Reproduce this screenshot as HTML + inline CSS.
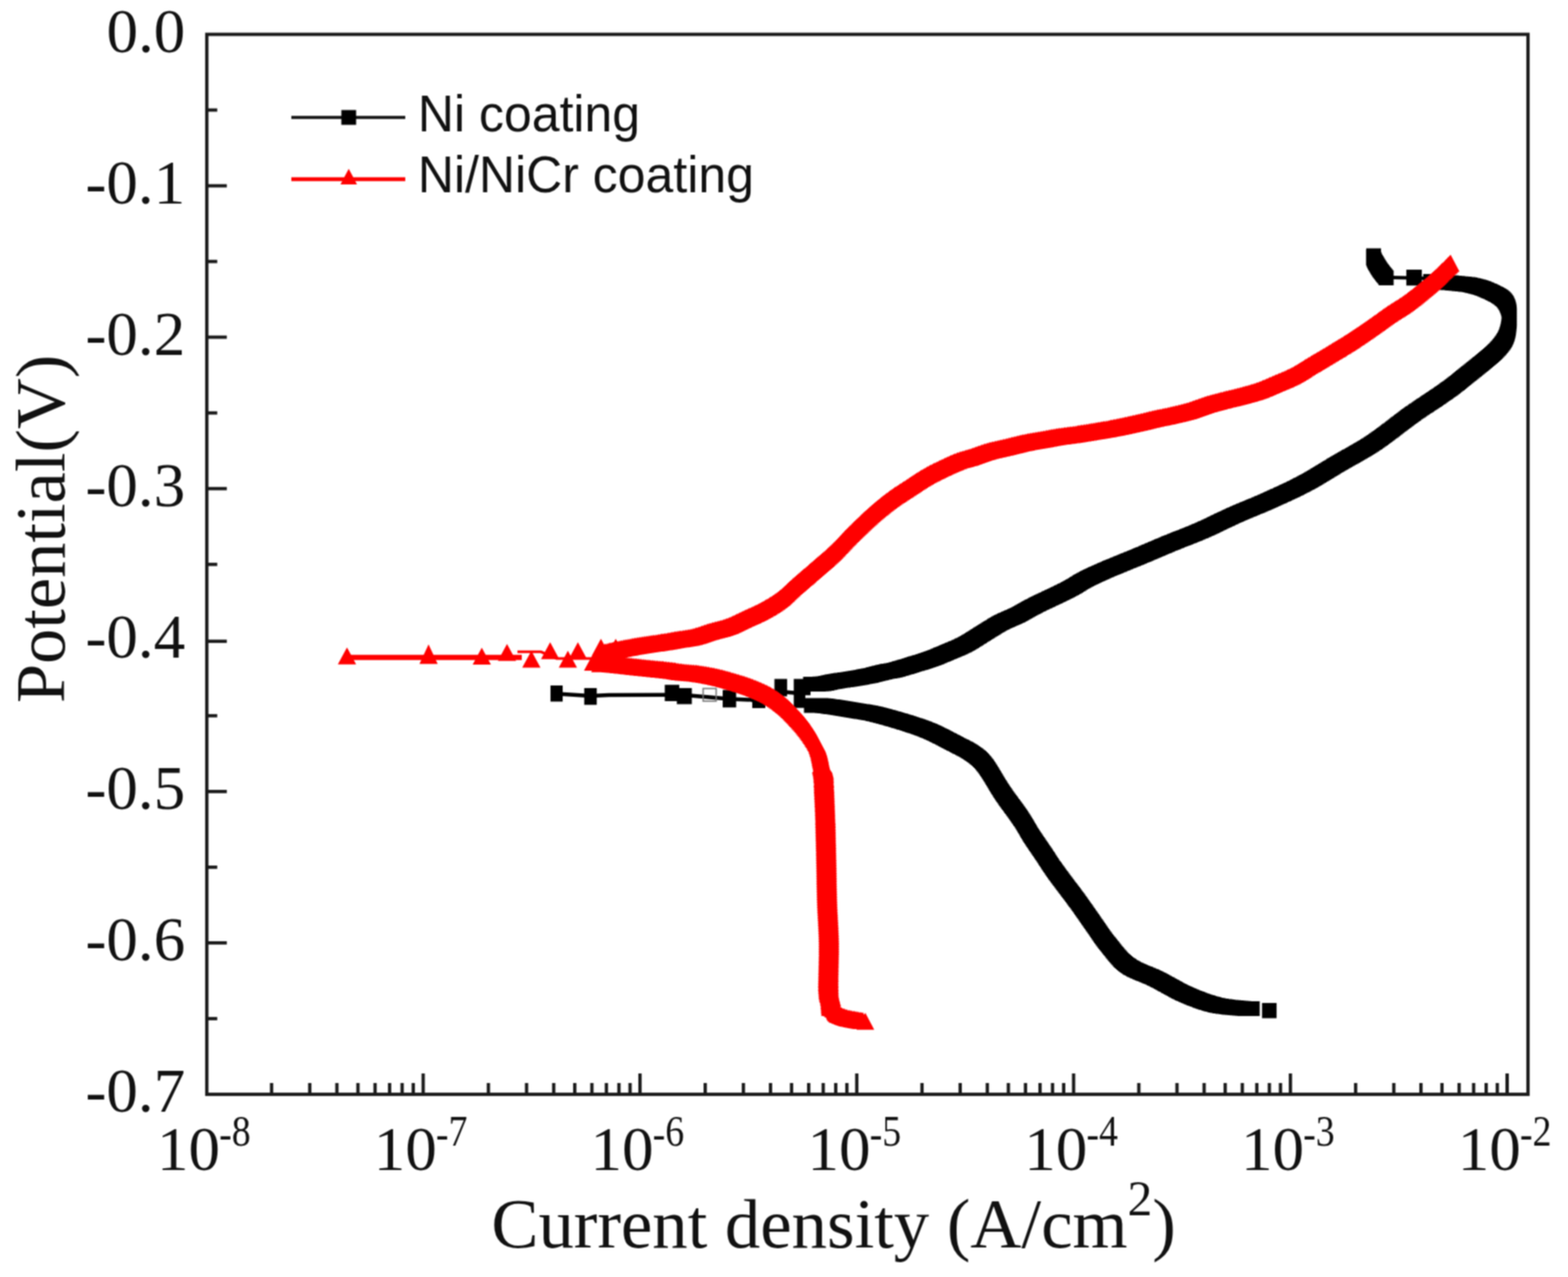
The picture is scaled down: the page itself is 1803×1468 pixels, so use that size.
<!DOCTYPE html><html><head><meta charset="utf-8"><style>html,body{margin:0;padding:0;background:#fff;}svg{display:block;}.ser{font-family:"Liberation Serif","Times New Roman",serif;}.san{font-family:"Liberation Sans",Arial,sans-serif;}</style></head><body>
<svg width="1803" height="1468" viewBox="0 0 1803 1468">
<rect width="1803" height="1468" fill="#fff"/>
<defs><filter id="bl" x="0" y="0" width="1803" height="1468" filterUnits="userSpaceOnUse" color-interpolation-filters="sRGB"><feConvolveMatrix order="3" kernelMatrix="1 2 1 2 4 2 1 2 1" divisor="16" edgeMode="duplicate"/></filter></defs>
<g filter="url(#bl)">
<polyline points="640.0,797.5 679.0,800.0 700.0,799.0 772.0,798.8 787.0,799.0 839.0,803.5 864.0,804.5 872.0,808.0 897.0,795.0 919.0,797.0 932.0,797.0" fill="none" stroke="#000" stroke-width="4.5"/>
<line x1="1600" y1="319" x2="1640" y2="320" stroke="#000" stroke-width="4"/>
<rect x="808.5" y="791.5" width="15" height="14.5" fill="none" stroke="#777" stroke-width="1.6"/>
<path d="M1431.5 1151.0h17.0v17.0h-17.0zM1430.0 1151.0h17.0v17.0h-17.0zM1428.6 1151.0h17.0v17.0h-17.0zM1427.2 1151.0h17.0v17.0h-17.0zM1425.8 1151.0h17.0v17.0h-17.0zM1424.1 1150.9h17.0v17.0h-17.0zM1422.9 1150.9h17.0v17.0h-17.0zM1421.5 1150.8h17.0v17.0h-17.0zM1420.1 1150.7h17.0v17.0h-17.0zM1418.6 1150.6h17.0v17.0h-17.0zM1417.1 1150.4h17.0v17.0h-17.0zM1415.5 1150.3h17.0v17.0h-17.0zM1414.2 1150.2h17.0v17.0h-17.0zM1412.9 1150.1h17.0v17.0h-17.0zM1411.5 1149.9h17.0v17.0h-17.0zM1410.1 1149.8h17.0v17.0h-17.0zM1408.6 1149.7h17.0v17.0h-17.0zM1407.1 1149.5h17.0v17.0h-17.0zM1405.6 1149.4h17.0v17.0h-17.0zM1404.0 1149.2h17.0v17.0h-17.0zM1402.4 1149.0h17.0v17.0h-17.0zM1400.8 1148.8h17.0v17.0h-17.0zM1399.2 1148.6h17.0v17.0h-17.0zM1397.6 1148.4h17.0v17.0h-17.0zM1395.9 1148.1h17.0v17.0h-17.0zM1394.3 1147.9h17.0v17.0h-17.0zM1392.6 1147.6h17.0v17.0h-17.0zM1391.0 1147.2h17.0v17.0h-17.0zM1389.4 1146.9h17.0v17.0h-17.0zM1387.8 1146.5h17.0v17.0h-17.0zM1386.4 1146.1h17.0v17.0h-17.0zM1385.1 1145.8h17.0v17.0h-17.0zM1383.7 1145.4h17.0v17.0h-17.0zM1382.3 1145.0h17.0v17.0h-17.0zM1380.9 1144.6h17.0v17.0h-17.0zM1379.5 1144.1h17.0v17.0h-17.0zM1378.0 1143.7h17.0v17.0h-17.0zM1376.6 1143.2h17.0v17.0h-17.0zM1375.2 1142.7h17.0v17.0h-17.0zM1373.8 1142.2h17.0v17.0h-17.0zM1372.3 1141.7h17.0v17.0h-17.0zM1370.9 1141.2h17.0v17.0h-17.0zM1369.4 1140.6h17.0v17.0h-17.0zM1368.0 1140.1h17.0v17.0h-17.0zM1366.5 1139.5h17.0v17.0h-17.0zM1365.1 1138.9h17.0v17.0h-17.0zM1363.6 1138.4h17.0v17.0h-17.0zM1362.2 1137.8h17.0v17.0h-17.0zM1360.7 1137.2h17.0v17.0h-17.0zM1359.3 1136.6h17.0v17.0h-17.0zM1357.8 1136.0h17.0v17.0h-17.0zM1356.4 1135.3h17.0v17.0h-17.0zM1355.0 1134.7h17.0v17.0h-17.0zM1353.6 1134.1h17.0v17.0h-17.0zM1352.3 1133.5h17.0v17.0h-17.0zM1351.0 1132.9h17.0v17.0h-17.0zM1349.6 1132.2h17.0v17.0h-17.0zM1348.3 1131.5h17.0v17.0h-17.0zM1347.0 1130.9h17.0v17.0h-17.0zM1345.6 1130.2h17.0v17.0h-17.0zM1344.3 1129.5h17.0v17.0h-17.0zM1343.0 1128.8h17.0v17.0h-17.0zM1341.7 1128.1h17.0v17.0h-17.0zM1340.3 1127.3h17.0v17.0h-17.0zM1339.0 1126.6h17.0v17.0h-17.0zM1337.7 1125.9h17.0v17.0h-17.0zM1336.4 1125.1h17.0v17.0h-17.0zM1335.0 1124.4h17.0v17.0h-17.0zM1333.7 1123.6h17.0v17.0h-17.0zM1332.4 1122.9h17.0v17.0h-17.0zM1331.0 1122.2h17.0v17.0h-17.0zM1329.7 1121.4h17.0v17.0h-17.0zM1328.4 1120.7h17.0v17.0h-17.0zM1327.1 1120.0h17.0v17.0h-17.0zM1325.7 1119.3h17.0v17.0h-17.0zM1324.4 1118.6h17.0v17.0h-17.0zM1323.1 1117.9h17.0v17.0h-17.0zM1321.7 1117.2h17.0v17.0h-17.0zM1320.4 1116.5h17.0v17.0h-17.0zM1319.0 1115.9h17.0v17.0h-17.0zM1317.6 1115.2h17.0v17.0h-17.0zM1316.2 1114.6h17.0v17.0h-17.0zM1314.8 1114.0h17.0v17.0h-17.0zM1313.3 1113.4h17.0v17.0h-17.0zM1311.9 1112.8h17.0v17.0h-17.0zM1310.4 1112.2h17.0v17.0h-17.0zM1309.0 1111.6h17.0v17.0h-17.0zM1307.6 1111.0h17.0v17.0h-17.0zM1306.1 1110.5h17.0v17.0h-17.0zM1304.7 1109.9h17.0v17.0h-17.0zM1303.3 1109.3h17.0v17.0h-17.0zM1301.9 1108.7h17.0v17.0h-17.0zM1300.5 1108.1h17.0v17.0h-17.0zM1299.1 1107.5h17.0v17.0h-17.0zM1297.7 1106.8h17.0v17.0h-17.0zM1296.3 1106.2h17.0v17.0h-17.0zM1295.0 1105.5h17.0v17.0h-17.0zM1293.7 1104.8h17.0v17.0h-17.0zM1292.4 1104.1h17.0v17.0h-17.0zM1291.2 1103.4h17.0v17.0h-17.0zM1290.0 1102.6h17.0v17.0h-17.0zM1288.8 1101.8h17.0v17.0h-17.0zM1287.6 1101.0h17.0v17.0h-17.0zM1286.3 1100.1h17.0v17.0h-17.0zM1285.1 1099.1h17.0v17.0h-17.0zM1283.9 1098.1h17.0v17.0h-17.0zM1282.8 1097.0h17.0v17.0h-17.0zM1281.6 1095.9h17.0v17.0h-17.0zM1280.5 1094.9h17.0v17.0h-17.0zM1279.5 1093.7h17.0v17.0h-17.0zM1278.4 1092.6h17.0v17.0h-17.0zM1277.4 1091.5h17.0v17.0h-17.0zM1276.3 1090.3h17.0v17.0h-17.0zM1275.3 1089.1h17.0v17.0h-17.0zM1274.4 1088.0h17.0v17.0h-17.0zM1273.4 1086.8h17.0v17.0h-17.0zM1272.4 1085.6h17.0v17.0h-17.0zM1271.5 1084.4h17.0v17.0h-17.0zM1270.6 1083.3h17.0v17.0h-17.0zM1269.7 1082.1h17.0v17.0h-17.0zM1268.7 1081.0h17.0v17.0h-17.0zM1267.9 1079.8h17.0v17.0h-17.0zM1267.0 1078.7h17.0v17.0h-17.0zM1266.1 1077.6h17.0v17.0h-17.0zM1265.2 1076.5h17.0v17.0h-17.0zM1264.1 1075.2h17.0v17.0h-17.0zM1263.2 1074.0h17.0v17.0h-17.0zM1262.2 1072.8h17.0v17.0h-17.0zM1261.4 1071.6h17.0v17.0h-17.0zM1260.5 1070.4h17.0v17.0h-17.0zM1259.6 1069.2h17.0v17.0h-17.0zM1258.8 1068.1h17.0v17.0h-17.0zM1258.0 1066.9h17.0v17.0h-17.0zM1257.2 1065.7h17.0v17.0h-17.0zM1256.4 1064.6h17.0v17.0h-17.0zM1255.6 1063.4h17.0v17.0h-17.0zM1254.8 1062.2h17.0v17.0h-17.0zM1254.0 1061.0h17.0v17.0h-17.0zM1253.1 1059.7h17.0v17.0h-17.0zM1252.3 1058.5h17.0v17.0h-17.0zM1251.4 1057.2h17.0v17.0h-17.0zM1250.5 1055.9h17.0v17.0h-17.0zM1249.5 1054.5h17.0v17.0h-17.0zM1248.7 1053.4h17.0v17.0h-17.0zM1247.9 1052.2h17.0v17.0h-17.0zM1247.1 1051.1h17.0v17.0h-17.0zM1246.3 1049.9h17.0v17.0h-17.0zM1245.5 1048.8h17.0v17.0h-17.0zM1244.7 1047.6h17.0v17.0h-17.0zM1243.8 1046.4h17.0v17.0h-17.0zM1243.0 1045.2h17.0v17.0h-17.0zM1242.2 1044.0h17.0v17.0h-17.0zM1241.3 1042.8h17.0v17.0h-17.0zM1240.4 1041.5h17.0v17.0h-17.0zM1239.6 1040.3h17.0v17.0h-17.0zM1238.7 1039.0h17.0v17.0h-17.0zM1237.8 1037.8h17.0v17.0h-17.0zM1236.9 1036.5h17.0v17.0h-17.0zM1236.0 1035.2h17.0v17.0h-17.0zM1235.1 1033.9h17.0v17.0h-17.0zM1234.2 1032.6h17.0v17.0h-17.0zM1233.2 1031.3h17.0v17.0h-17.0zM1232.3 1030.0h17.0v17.0h-17.0zM1231.3 1028.6h17.0v17.0h-17.0zM1230.4 1027.3h17.0v17.0h-17.0zM1229.4 1026.0h17.0v17.0h-17.0zM1228.6 1024.9h17.0v17.0h-17.0zM1227.7 1023.7h17.0v17.0h-17.0zM1226.8 1022.5h17.0v17.0h-17.0zM1225.9 1021.3h17.0v17.0h-17.0zM1225.0 1020.0h17.0v17.0h-17.0zM1224.1 1018.8h17.0v17.0h-17.0zM1223.1 1017.5h17.0v17.0h-17.0zM1222.1 1016.2h17.0v17.0h-17.0zM1221.2 1014.9h17.0v17.0h-17.0zM1220.2 1013.7h17.0v17.0h-17.0zM1219.2 1012.4h17.0v17.0h-17.0zM1218.2 1011.1h17.0v17.0h-17.0zM1217.2 1009.8h17.0v17.0h-17.0zM1216.3 1008.5h17.0v17.0h-17.0zM1215.3 1007.2h17.0v17.0h-17.0zM1214.3 1005.9h17.0v17.0h-17.0zM1213.4 1004.6h17.0v17.0h-17.0zM1212.4 1003.4h17.0v17.0h-17.0zM1211.5 1002.1h17.0v17.0h-17.0zM1210.6 1000.9h17.0v17.0h-17.0zM1209.7 999.7h17.0v17.0h-17.0zM1208.8 998.6h17.0v17.0h-17.0zM1208.0 997.4h17.0v17.0h-17.0zM1207.2 996.3h17.0v17.0h-17.0zM1206.4 995.2h17.0v17.0h-17.0zM1205.6 994.2h17.0v17.0h-17.0zM1204.9 993.2h17.0v17.0h-17.0zM1204.1 992.1h17.0v17.0h-17.0zM1203.4 991.1h17.0v17.0h-17.0zM1202.7 990.1h17.0v17.0h-17.0zM1201.7 988.7h17.0v17.0h-17.0zM1200.8 987.3h17.0v17.0h-17.0zM1199.9 986.0h17.0v17.0h-17.0zM1199.1 984.8h17.0v17.0h-17.0zM1198.3 983.6h17.0v17.0h-17.0zM1197.5 982.4h17.0v17.0h-17.0zM1196.8 981.2h17.0v17.0h-17.0zM1196.1 980.1h17.0v17.0h-17.0zM1195.4 979.0h17.0v17.0h-17.0zM1194.6 977.9h17.0v17.0h-17.0zM1193.9 976.8h17.0v17.0h-17.0zM1193.2 975.6h17.0v17.0h-17.0zM1192.4 974.4h17.0v17.0h-17.0zM1191.6 973.2h17.0v17.0h-17.0zM1190.7 972.0h17.0v17.0h-17.0zM1189.9 970.7h17.0v17.0h-17.0zM1189.0 969.5h17.0v17.0h-17.0zM1188.2 968.2h17.0v17.0h-17.0zM1187.3 967.0h17.0v17.0h-17.0zM1186.5 965.7h17.0v17.0h-17.0zM1185.6 964.5h17.0v17.0h-17.0zM1184.8 963.2h17.0v17.0h-17.0zM1183.9 962.0h17.0v17.0h-17.0zM1183.0 960.7h17.0v17.0h-17.0zM1182.2 959.5h17.0v17.0h-17.0zM1181.4 958.2h17.0v17.0h-17.0zM1180.5 957.0h17.0v17.0h-17.0zM1179.7 955.7h17.0v17.0h-17.0zM1178.9 954.5h17.0v17.0h-17.0zM1178.0 953.2h17.0v17.0h-17.0zM1177.2 952.0h17.0v17.0h-17.0zM1176.4 950.7h17.0v17.0h-17.0zM1175.7 949.5h17.0v17.0h-17.0zM1175.0 948.3h17.0v17.0h-17.0zM1174.2 947.1h17.0v17.0h-17.0zM1173.6 945.9h17.0v17.0h-17.0zM1172.9 944.7h17.0v17.0h-17.0zM1172.2 943.5h17.0v17.0h-17.0zM1171.5 942.3h17.0v17.0h-17.0zM1170.7 941.1h17.0v17.0h-17.0zM1170.0 939.8h17.0v17.0h-17.0zM1169.2 938.5h17.0v17.0h-17.0zM1168.4 937.2h17.0v17.0h-17.0zM1167.6 935.8h17.0v17.0h-17.0zM1166.7 934.4h17.0v17.0h-17.0zM1165.7 932.9h17.0v17.0h-17.0zM1165.0 931.9h17.0v17.0h-17.0zM1164.3 930.8h17.0v17.0h-17.0zM1163.5 929.8h17.0v17.0h-17.0zM1162.8 928.7h17.0v17.0h-17.0zM1162.0 927.5h17.0v17.0h-17.0zM1161.2 926.4h17.0v17.0h-17.0zM1160.3 925.2h17.0v17.0h-17.0zM1159.5 924.0h17.0v17.0h-17.0zM1158.6 922.8h17.0v17.0h-17.0zM1157.7 921.6h17.0v17.0h-17.0zM1156.8 920.4h17.0v17.0h-17.0zM1155.9 919.1h17.0v17.0h-17.0zM1154.9 917.9h17.0v17.0h-17.0zM1154.0 916.6h17.0v17.0h-17.0zM1153.1 915.3h17.0v17.0h-17.0zM1152.1 914.0h17.0v17.0h-17.0zM1151.2 912.7h17.0v17.0h-17.0zM1150.3 911.5h17.0v17.0h-17.0zM1149.3 910.2h17.0v17.0h-17.0zM1148.4 908.9h17.0v17.0h-17.0zM1147.5 907.6h17.0v17.0h-17.0zM1146.6 906.3h17.0v17.0h-17.0zM1145.7 905.0h17.0v17.0h-17.0zM1144.9 903.8h17.0v17.0h-17.0zM1144.0 902.5h17.0v17.0h-17.0zM1143.2 901.2h17.0v17.0h-17.0zM1142.3 900.0h17.0v17.0h-17.0zM1141.5 898.6h17.0v17.0h-17.0zM1140.7 897.3h17.0v17.0h-17.0zM1139.8 895.9h17.0v17.0h-17.0zM1139.0 894.6h17.0v17.0h-17.0zM1138.1 893.2h17.0v17.0h-17.0zM1137.3 891.8h17.0v17.0h-17.0zM1136.5 890.4h17.0v17.0h-17.0zM1135.7 889.0h17.0v17.0h-17.0zM1134.8 887.6h17.0v17.0h-17.0zM1134.0 886.3h17.0v17.0h-17.0zM1133.2 884.9h17.0v17.0h-17.0zM1132.4 883.6h17.0v17.0h-17.0zM1131.6 882.2h17.0v17.0h-17.0zM1130.8 880.9h17.0v17.0h-17.0zM1130.0 879.6h17.0v17.0h-17.0zM1129.2 878.4h17.0v17.0h-17.0zM1128.4 877.2h17.0v17.0h-17.0zM1127.7 876.0h17.0v17.0h-17.0zM1126.9 874.9h17.0v17.0h-17.0zM1126.2 873.8h17.0v17.0h-17.0zM1125.5 872.8h17.0v17.0h-17.0zM1124.7 871.8h17.0v17.0h-17.0zM1123.7 870.4h17.0v17.0h-17.0zM1122.9 869.4h17.0v17.0h-17.0zM1122.1 868.5h17.0v17.0h-17.0zM1121.0 867.2h17.0v17.0h-17.0zM1119.9 866.1h17.0v17.0h-17.0zM1118.9 865.0h17.0v17.0h-17.0zM1117.9 864.0h17.0v17.0h-17.0zM1116.9 863.1h17.0v17.0h-17.0zM1115.9 862.3h17.0v17.0h-17.0zM1114.8 861.4h17.0v17.0h-17.0zM1113.8 860.6h17.0v17.0h-17.0zM1112.7 859.8h17.0v17.0h-17.0zM1111.5 859.0h17.0v17.0h-17.0zM1110.3 858.1h17.0v17.0h-17.0zM1109.1 857.2h17.0v17.0h-17.0zM1108.0 856.4h17.0v17.0h-17.0zM1106.8 855.7h17.0v17.0h-17.0zM1105.6 854.9h17.0v17.0h-17.0zM1104.4 854.2h17.0v17.0h-17.0zM1103.2 853.5h17.0v17.0h-17.0zM1101.9 852.8h17.0v17.0h-17.0zM1100.6 852.2h17.0v17.0h-17.0zM1099.3 851.5h17.0v17.0h-17.0zM1098.0 850.8h17.0v17.0h-17.0zM1096.6 850.1h17.0v17.0h-17.0zM1095.2 849.4h17.0v17.0h-17.0zM1093.8 848.7h17.0v17.0h-17.0zM1092.3 847.9h17.0v17.0h-17.0zM1090.8 847.1h17.0v17.0h-17.0zM1089.2 846.3h17.0v17.0h-17.0zM1088.0 845.7h17.0v17.0h-17.0zM1086.8 845.1h17.0v17.0h-17.0zM1085.6 844.4h17.0v17.0h-17.0zM1084.3 843.7h17.0v17.0h-17.0zM1083.0 843.1h17.0v17.0h-17.0zM1081.7 842.4h17.0v17.0h-17.0zM1080.4 841.7h17.0v17.0h-17.0zM1079.0 840.9h17.0v17.0h-17.0zM1077.6 840.2h17.0v17.0h-17.0zM1076.2 839.5h17.0v17.0h-17.0zM1074.8 838.8h17.0v17.0h-17.0zM1073.4 838.1h17.0v17.0h-17.0zM1072.0 837.4h17.0v17.0h-17.0zM1070.6 836.7h17.0v17.0h-17.0zM1069.1 836.0h17.0v17.0h-17.0zM1067.7 835.3h17.0v17.0h-17.0zM1066.3 834.6h17.0v17.0h-17.0zM1064.9 833.9h17.0v17.0h-17.0zM1063.5 833.3h17.0v17.0h-17.0zM1062.1 832.7h17.0v17.0h-17.0zM1060.8 832.1h17.0v17.0h-17.0zM1059.4 831.5h17.0v17.0h-17.0zM1058.0 830.9h17.0v17.0h-17.0zM1056.6 830.4h17.0v17.0h-17.0zM1055.2 829.8h17.0v17.0h-17.0zM1053.8 829.3h17.0v17.0h-17.0zM1052.4 828.8h17.0v17.0h-17.0zM1051.0 828.2h17.0v17.0h-17.0zM1049.6 827.7h17.0v17.0h-17.0zM1048.3 827.3h17.0v17.0h-17.0zM1046.9 826.8h17.0v17.0h-17.0zM1045.5 826.3h17.0v17.0h-17.0zM1044.1 825.8h17.0v17.0h-17.0zM1042.7 825.4h17.0v17.0h-17.0zM1041.3 824.9h17.0v17.0h-17.0zM1039.9 824.4h17.0v17.0h-17.0zM1038.4 824.0h17.0v17.0h-17.0zM1037.0 823.5h17.0v17.0h-17.0zM1035.5 823.1h17.0v17.0h-17.0zM1034.0 822.6h17.0v17.0h-17.0zM1032.5 822.1h17.0v17.0h-17.0zM1031.0 821.7h17.0v17.0h-17.0zM1029.7 821.2h17.0v17.0h-17.0zM1028.2 820.8h17.0v17.0h-17.0zM1026.8 820.3h17.0v17.0h-17.0zM1025.3 819.9h17.0v17.0h-17.0zM1023.8 819.5h17.0v17.0h-17.0zM1022.2 819.0h17.0v17.0h-17.0zM1020.7 818.6h17.0v17.0h-17.0zM1019.1 818.1h17.0v17.0h-17.0zM1017.6 817.7h17.0v17.0h-17.0zM1016.0 817.2h17.0v17.0h-17.0zM1014.5 816.8h17.0v17.0h-17.0zM1012.9 816.3h17.0v17.0h-17.0zM1011.4 815.9h17.0v17.0h-17.0zM1009.8 815.5h17.0v17.0h-17.0zM1008.3 815.1h17.0v17.0h-17.0zM1006.9 814.7h17.0v17.0h-17.0zM1005.4 814.3h17.0v17.0h-17.0zM1004.0 813.9h17.0v17.0h-17.0zM1002.6 813.6h17.0v17.0h-17.0zM1001.3 813.2h17.0v17.0h-17.0zM1000.0 812.9h17.0v17.0h-17.0zM998.8 812.6h17.0v17.0h-17.0zM997.3 812.2h17.0v17.0h-17.0zM996.1 811.9h17.0v17.0h-17.0zM994.9 811.7h17.0v17.0h-17.0zM993.1 811.3h17.0v17.0h-17.0zM991.5 811.0h17.0v17.0h-17.0zM990.0 810.7h17.0v17.0h-17.0zM988.5 810.4h17.0v17.0h-17.0zM987.1 810.2h17.0v17.0h-17.0zM985.8 810.0h17.0v17.0h-17.0zM984.5 809.8h17.0v17.0h-17.0zM983.1 809.6h17.0v17.0h-17.0zM981.8 809.4h17.0v17.0h-17.0zM980.4 809.2h17.0v17.0h-17.0zM979.0 809.0h17.0v17.0h-17.0zM977.5 808.7h17.0v17.0h-17.0zM976.0 808.5h17.0v17.0h-17.0zM974.5 808.2h17.0v17.0h-17.0zM973.0 807.9h17.0v17.0h-17.0zM971.5 807.7h17.0v17.0h-17.0zM970.0 807.4h17.0v17.0h-17.0zM968.5 807.2h17.0v17.0h-17.0zM967.1 806.9h17.0v17.0h-17.0zM965.6 806.7h17.0v17.0h-17.0zM964.1 806.4h17.0v17.0h-17.0zM962.6 806.2h17.0v17.0h-17.0zM961.1 806.0h17.0v17.0h-17.0zM959.6 805.7h17.0v17.0h-17.0zM958.1 805.5h17.0v17.0h-17.0zM956.6 805.3h17.0v17.0h-17.0zM955.0 805.0h17.0v17.0h-17.0zM953.5 804.8h17.0v17.0h-17.0zM951.9 804.6h17.0v17.0h-17.0zM950.3 804.3h17.0v17.0h-17.0zM948.8 804.1h17.0v17.0h-17.0zM947.2 803.9h17.0v17.0h-17.0zM945.6 803.7h17.0v17.0h-17.0zM944.1 803.5h17.0v17.0h-17.0zM942.7 803.3h17.0v17.0h-17.0zM941.2 803.1h17.0v17.0h-17.0zM939.8 803.0h17.0v17.0h-17.0zM938.5 802.8h17.0v17.0h-17.0zM936.9 802.7h17.0v17.0h-17.0zM935.6 802.6h17.0v17.0h-17.0zM934.4 802.6h17.0v17.0h-17.0zM933.2 802.5h17.0v17.0h-17.0zM931.4 802.5h17.0v17.0h-17.0zM929.8 802.5h17.0v17.0h-17.0zM928.3 802.5h17.0v17.0h-17.0zM926.9 802.5h17.0v17.0h-17.0zM925.4 802.5h17.0v17.0h-17.0zM924.5 802.5h17.0v17.0h-17.0zM923.5 778.0h17.0v17.0h-17.0zM924.8 778.0h17.0v17.0h-17.0zM926.0 778.0h17.0v17.0h-17.0zM927.5 778.0h17.0v17.0h-17.0zM929.1 777.9h17.0v17.0h-17.0zM930.8 777.9h17.0v17.0h-17.0zM932.6 777.9h17.0v17.0h-17.0zM934.3 777.8h17.0v17.0h-17.0zM936.0 777.7h17.0v17.0h-17.0zM937.6 777.6h17.0v17.0h-17.0zM939.1 777.4h17.0v17.0h-17.0zM940.6 777.1h17.0v17.0h-17.0zM942.0 776.9h17.0v17.0h-17.0zM943.3 776.6h17.0v17.0h-17.0zM944.7 776.3h17.0v17.0h-17.0zM946.1 775.9h17.0v17.0h-17.0zM947.6 775.6h17.0v17.0h-17.0zM949.2 775.2h17.0v17.0h-17.0zM950.9 774.9h17.0v17.0h-17.0zM952.4 774.7h17.0v17.0h-17.0zM953.7 774.4h17.0v17.0h-17.0zM955.1 774.2h17.0v17.0h-17.0zM956.5 774.0h17.0v17.0h-17.0zM958.0 773.8h17.0v17.0h-17.0zM959.5 773.6h17.0v17.0h-17.0zM961.1 773.4h17.0v17.0h-17.0zM962.7 773.1h17.0v17.0h-17.0zM964.2 772.9h17.0v17.0h-17.0zM965.8 772.7h17.0v17.0h-17.0zM967.4 772.4h17.0v17.0h-17.0zM969.0 772.2h17.0v17.0h-17.0zM970.5 772.0h17.0v17.0h-17.0zM972.0 771.7h17.0v17.0h-17.0zM973.5 771.5h17.0v17.0h-17.0zM975.0 771.2h17.0v17.0h-17.0zM976.6 771.0h17.0v17.0h-17.0zM978.1 770.7h17.0v17.0h-17.0zM979.7 770.4h17.0v17.0h-17.0zM981.2 770.2h17.0v17.0h-17.0zM982.7 769.9h17.0v17.0h-17.0zM984.3 769.6h17.0v17.0h-17.0zM985.8 769.3h17.0v17.0h-17.0zM987.2 769.1h17.0v17.0h-17.0zM988.7 768.8h17.0v17.0h-17.0zM990.1 768.5h17.0v17.0h-17.0zM991.5 768.2h17.0v17.0h-17.0zM993.1 767.9h17.0v17.0h-17.0zM994.7 767.5h17.0v17.0h-17.0zM996.2 767.1h17.0v17.0h-17.0zM997.7 766.7h17.0v17.0h-17.0zM999.2 766.3h17.0v17.0h-17.0zM1000.6 766.0h17.0v17.0h-17.0zM1002.1 765.6h17.0v17.0h-17.0zM1003.5 765.2h17.0v17.0h-17.0zM1004.9 764.9h17.0v17.0h-17.0zM1006.2 764.5h17.0v17.0h-17.0zM1007.6 764.2h17.0v17.0h-17.0zM1009.1 763.9h17.0v17.0h-17.0zM1010.6 763.6h17.0v17.0h-17.0zM1012.0 763.3h17.0v17.0h-17.0zM1013.4 763.1h17.0v17.0h-17.0zM1014.8 762.9h17.0v17.0h-17.0zM1016.2 762.6h17.0v17.0h-17.0zM1017.6 762.4h17.0v17.0h-17.0zM1019.2 762.1h17.0v17.0h-17.0zM1020.9 761.7h17.0v17.0h-17.0zM1022.3 761.3h17.0v17.0h-17.0zM1023.6 760.9h17.0v17.0h-17.0zM1025.0 760.5h17.0v17.0h-17.0zM1026.4 760.1h17.0v17.0h-17.0zM1027.8 759.7h17.0v17.0h-17.0zM1029.3 759.3h17.0v17.0h-17.0zM1030.8 758.8h17.0v17.0h-17.0zM1032.4 758.3h17.0v17.0h-17.0zM1033.9 757.9h17.0v17.0h-17.0zM1035.4 757.4h17.0v17.0h-17.0zM1037.0 756.9h17.0v17.0h-17.0zM1038.5 756.4h17.0v17.0h-17.0zM1040.0 756.0h17.0v17.0h-17.0zM1041.5 755.5h17.0v17.0h-17.0zM1043.0 755.1h17.0v17.0h-17.0zM1044.4 754.6h17.0v17.0h-17.0zM1045.9 754.2h17.0v17.0h-17.0zM1047.4 753.7h17.0v17.0h-17.0zM1048.8 753.3h17.0v17.0h-17.0zM1050.3 752.9h17.0v17.0h-17.0zM1051.7 752.4h17.0v17.0h-17.0zM1053.2 752.0h17.0v17.0h-17.0zM1054.7 751.5h17.0v17.0h-17.0zM1056.1 751.0h17.0v17.0h-17.0zM1057.6 750.5h17.0v17.0h-17.0zM1059.1 750.1h17.0v17.0h-17.0zM1060.5 749.5h17.0v17.0h-17.0zM1062.0 749.0h17.0v17.0h-17.0zM1063.4 748.5h17.0v17.0h-17.0zM1064.8 748.0h17.0v17.0h-17.0zM1066.2 747.5h17.0v17.0h-17.0zM1067.5 746.9h17.0v17.0h-17.0zM1068.9 746.4h17.0v17.0h-17.0zM1070.3 745.8h17.0v17.0h-17.0zM1071.7 745.2h17.0v17.0h-17.0zM1073.1 744.6h17.0v17.0h-17.0zM1074.5 744.1h17.0v17.0h-17.0zM1075.9 743.5h17.0v17.0h-17.0zM1077.3 742.9h17.0v17.0h-17.0zM1078.7 742.3h17.0v17.0h-17.0zM1080.1 741.7h17.0v17.0h-17.0zM1081.5 741.1h17.0v17.0h-17.0zM1082.9 740.5h17.0v17.0h-17.0zM1084.3 739.9h17.0v17.0h-17.0zM1085.7 739.3h17.0v17.0h-17.0zM1087.1 738.8h17.0v17.0h-17.0zM1088.5 738.2h17.0v17.0h-17.0zM1089.9 737.6h17.0v17.0h-17.0zM1091.3 737.0h17.0v17.0h-17.0zM1092.7 736.4h17.0v17.0h-17.0zM1094.1 735.8h17.0v17.0h-17.0zM1095.5 735.2h17.0v17.0h-17.0zM1096.8 734.5h17.0v17.0h-17.0zM1098.2 733.8h17.0v17.0h-17.0zM1099.6 733.2h17.0v17.0h-17.0zM1101.0 732.4h17.0v17.0h-17.0zM1102.4 731.7h17.0v17.0h-17.0zM1103.7 731.0h17.0v17.0h-17.0zM1105.0 730.3h17.0v17.0h-17.0zM1106.3 729.5h17.0v17.0h-17.0zM1107.6 728.7h17.0v17.0h-17.0zM1108.9 727.9h17.0v17.0h-17.0zM1110.2 727.1h17.0v17.0h-17.0zM1111.5 726.3h17.0v17.0h-17.0zM1112.8 725.5h17.0v17.0h-17.0zM1114.1 724.7h17.0v17.0h-17.0zM1115.4 723.8h17.0v17.0h-17.0zM1116.7 723.0h17.0v17.0h-17.0zM1118.0 722.2h17.0v17.0h-17.0zM1119.3 721.3h17.0v17.0h-17.0zM1120.6 720.5h17.0v17.0h-17.0zM1121.9 719.7h17.0v17.0h-17.0zM1123.2 718.9h17.0v17.0h-17.0zM1124.5 718.1h17.0v17.0h-17.0zM1125.8 717.3h17.0v17.0h-17.0zM1127.2 716.5h17.0v17.0h-17.0zM1128.5 715.6h17.0v17.0h-17.0zM1129.8 714.8h17.0v17.0h-17.0zM1131.1 714.0h17.0v17.0h-17.0zM1132.4 713.2h17.0v17.0h-17.0zM1133.7 712.4h17.0v17.0h-17.0zM1135.0 711.6h17.0v17.0h-17.0zM1136.3 710.8h17.0v17.0h-17.0zM1137.6 710.0h17.0v17.0h-17.0zM1138.9 709.2h17.0v17.0h-17.0zM1140.2 708.5h17.0v17.0h-17.0zM1141.5 707.8h17.0v17.0h-17.0zM1142.9 707.1h17.0v17.0h-17.0zM1144.2 706.4h17.0v17.0h-17.0zM1145.6 705.8h17.0v17.0h-17.0zM1147.0 705.1h17.0v17.0h-17.0zM1148.3 704.5h17.0v17.0h-17.0zM1149.7 703.9h17.0v17.0h-17.0zM1151.0 703.3h17.0v17.0h-17.0zM1152.4 702.7h17.0v17.0h-17.0zM1153.8 702.1h17.0v17.0h-17.0zM1155.1 701.5h17.0v17.0h-17.0zM1156.5 700.9h17.0v17.0h-17.0zM1157.9 700.3h17.0v17.0h-17.0zM1159.2 699.7h17.0v17.0h-17.0zM1160.6 699.1h17.0v17.0h-17.0zM1161.9 698.4h17.0v17.0h-17.0zM1163.3 697.7h17.0v17.0h-17.0zM1164.6 697.0h17.0v17.0h-17.0zM1165.9 696.3h17.0v17.0h-17.0zM1167.3 695.5h17.0v17.0h-17.0zM1168.6 694.8h17.0v17.0h-17.0zM1169.9 694.1h17.0v17.0h-17.0zM1171.3 693.3h17.0v17.0h-17.0zM1172.6 692.5h17.0v17.0h-17.0zM1173.9 691.8h17.0v17.0h-17.0zM1175.3 691.1h17.0v17.0h-17.0zM1176.6 690.3h17.0v17.0h-17.0zM1177.9 689.6h17.0v17.0h-17.0zM1179.3 688.9h17.0v17.0h-17.0zM1180.6 688.2h17.0v17.0h-17.0zM1182.0 687.5h17.0v17.0h-17.0zM1183.3 686.8h17.0v17.0h-17.0zM1184.7 686.1h17.0v17.0h-17.0zM1186.0 685.4h17.0v17.0h-17.0zM1187.4 684.8h17.0v17.0h-17.0zM1188.8 684.1h17.0v17.0h-17.0zM1190.1 683.5h17.0v17.0h-17.0zM1191.5 682.8h17.0v17.0h-17.0zM1192.9 682.2h17.0v17.0h-17.0zM1194.2 681.6h17.0v17.0h-17.0zM1195.6 680.9h17.0v17.0h-17.0zM1197.0 680.3h17.0v17.0h-17.0zM1198.3 679.6h17.0v17.0h-17.0zM1199.7 679.0h17.0v17.0h-17.0zM1201.0 678.3h17.0v17.0h-17.0zM1202.4 677.7h17.0v17.0h-17.0zM1203.8 677.0h17.0v17.0h-17.0zM1205.1 676.4h17.0v17.0h-17.0zM1206.5 675.7h17.0v17.0h-17.0zM1207.9 675.1h17.0v17.0h-17.0zM1209.2 674.4h17.0v17.0h-17.0zM1210.6 673.8h17.0v17.0h-17.0zM1212.0 673.1h17.0v17.0h-17.0zM1213.3 672.4h17.0v17.0h-17.0zM1214.7 671.8h17.0v17.0h-17.0zM1216.0 671.1h17.0v17.0h-17.0zM1217.4 670.4h17.0v17.0h-17.0zM1218.8 669.7h17.0v17.0h-17.0zM1220.1 669.0h17.0v17.0h-17.0zM1221.5 668.3h17.0v17.0h-17.0zM1222.8 667.6h17.0v17.0h-17.0zM1224.1 666.9h17.0v17.0h-17.0zM1225.3 666.1h17.0v17.0h-17.0zM1226.6 665.4h17.0v17.0h-17.0zM1227.8 664.7h17.0v17.0h-17.0zM1229.1 663.9h17.0v17.0h-17.0zM1230.3 663.1h17.0v17.0h-17.0zM1231.6 662.4h17.0v17.0h-17.0zM1232.8 661.6h17.0v17.0h-17.0zM1234.1 660.8h17.0v17.0h-17.0zM1235.4 660.0h17.0v17.0h-17.0zM1236.8 659.3h17.0v17.0h-17.0zM1238.2 658.5h17.0v17.0h-17.0zM1239.6 657.7h17.0v17.0h-17.0zM1241.0 657.0h17.0v17.0h-17.0zM1242.3 656.3h17.0v17.0h-17.0zM1243.5 655.7h17.0v17.0h-17.0zM1244.8 655.1h17.0v17.0h-17.0zM1246.0 654.5h17.0v17.0h-17.0zM1247.3 653.9h17.0v17.0h-17.0zM1248.5 653.3h17.0v17.0h-17.0zM1249.8 652.7h17.0v17.0h-17.0zM1251.1 652.1h17.0v17.0h-17.0zM1252.4 651.5h17.0v17.0h-17.0zM1253.7 650.9h17.0v17.0h-17.0zM1255.1 650.3h17.0v17.0h-17.0zM1256.5 649.7h17.0v17.0h-17.0zM1257.9 649.1h17.0v17.0h-17.0zM1259.3 648.4h17.0v17.0h-17.0zM1260.8 647.8h17.0v17.0h-17.0zM1262.3 647.1h17.0v17.0h-17.0zM1263.8 646.5h17.0v17.0h-17.0zM1265.4 645.8h17.0v17.0h-17.0zM1267.0 645.1h17.0v17.0h-17.0zM1268.2 644.6h17.0v17.0h-17.0zM1269.5 644.0h17.0v17.0h-17.0zM1270.7 643.5h17.0v17.0h-17.0zM1272.0 643.0h17.0v17.0h-17.0zM1273.4 642.4h17.0v17.0h-17.0zM1274.7 641.9h17.0v17.0h-17.0zM1276.1 641.3h17.0v17.0h-17.0zM1277.5 640.7h17.0v17.0h-17.0zM1278.9 640.2h17.0v17.0h-17.0zM1280.3 639.6h17.0v17.0h-17.0zM1281.7 639.0h17.0v17.0h-17.0zM1283.2 638.4h17.0v17.0h-17.0zM1284.6 637.8h17.0v17.0h-17.0zM1286.1 637.2h17.0v17.0h-17.0zM1287.5 636.6h17.0v17.0h-17.0zM1289.0 636.0h17.0v17.0h-17.0zM1290.5 635.4h17.0v17.0h-17.0zM1291.9 634.8h17.0v17.0h-17.0zM1293.4 634.2h17.0v17.0h-17.0zM1294.9 633.7h17.0v17.0h-17.0zM1296.3 633.1h17.0v17.0h-17.0zM1297.8 632.5h17.0v17.0h-17.0zM1299.2 631.9h17.0v17.0h-17.0zM1300.6 631.3h17.0v17.0h-17.0zM1302.0 630.7h17.0v17.0h-17.0zM1303.4 630.1h17.0v17.0h-17.0zM1304.8 629.5h17.0v17.0h-17.0zM1306.2 629.0h17.0v17.0h-17.0zM1307.6 628.4h17.0v17.0h-17.0zM1309.0 627.8h17.0v17.0h-17.0zM1310.3 627.2h17.0v17.0h-17.0zM1311.7 626.6h17.0v17.0h-17.0zM1313.1 626.0h17.0v17.0h-17.0zM1314.5 625.4h17.0v17.0h-17.0zM1315.9 624.8h17.0v17.0h-17.0zM1317.3 624.3h17.0v17.0h-17.0zM1318.6 623.7h17.0v17.0h-17.0zM1320.0 623.1h17.0v17.0h-17.0zM1321.4 622.5h17.0v17.0h-17.0zM1322.8 621.9h17.0v17.0h-17.0zM1324.2 621.3h17.0v17.0h-17.0zM1325.6 620.7h17.0v17.0h-17.0zM1326.9 620.1h17.0v17.0h-17.0zM1328.3 619.6h17.0v17.0h-17.0zM1329.7 619.0h17.0v17.0h-17.0zM1331.1 618.4h17.0v17.0h-17.0zM1332.5 617.8h17.0v17.0h-17.0zM1333.9 617.2h17.0v17.0h-17.0zM1335.2 616.6h17.0v17.0h-17.0zM1336.6 616.1h17.0v17.0h-17.0zM1338.0 615.5h17.0v17.0h-17.0zM1339.4 614.9h17.0v17.0h-17.0zM1340.8 614.4h17.0v17.0h-17.0zM1342.2 613.8h17.0v17.0h-17.0zM1343.6 613.2h17.0v17.0h-17.0zM1345.0 612.7h17.0v17.0h-17.0zM1346.4 612.1h17.0v17.0h-17.0zM1347.7 611.6h17.0v17.0h-17.0zM1349.1 611.0h17.0v17.0h-17.0zM1350.5 610.5h17.0v17.0h-17.0zM1351.9 610.0h17.0v17.0h-17.0zM1353.3 609.4h17.0v17.0h-17.0zM1354.7 608.9h17.0v17.0h-17.0zM1356.1 608.3h17.0v17.0h-17.0zM1357.5 607.8h17.0v17.0h-17.0zM1358.9 607.2h17.0v17.0h-17.0zM1360.3 606.7h17.0v17.0h-17.0zM1361.7 606.1h17.0v17.0h-17.0zM1363.1 605.6h17.0v17.0h-17.0zM1364.5 605.0h17.0v17.0h-17.0zM1365.9 604.4h17.0v17.0h-17.0zM1367.3 603.8h17.0v17.0h-17.0zM1368.7 603.2h17.0v17.0h-17.0zM1370.1 602.6h17.0v17.0h-17.0zM1371.6 602.0h17.0v17.0h-17.0zM1373.0 601.4h17.0v17.0h-17.0zM1374.4 600.8h17.0v17.0h-17.0zM1375.7 600.2h17.0v17.0h-17.0zM1377.0 599.6h17.0v17.0h-17.0zM1378.4 599.0h17.0v17.0h-17.0zM1379.7 598.4h17.0v17.0h-17.0zM1381.1 597.8h17.0v17.0h-17.0zM1382.4 597.2h17.0v17.0h-17.0zM1383.7 596.5h17.0v17.0h-17.0zM1385.1 595.9h17.0v17.0h-17.0zM1386.5 595.2h17.0v17.0h-17.0zM1387.8 594.6h17.0v17.0h-17.0zM1389.2 593.9h17.0v17.0h-17.0zM1390.5 593.3h17.0v17.0h-17.0zM1391.9 592.6h17.0v17.0h-17.0zM1393.3 592.0h17.0v17.0h-17.0zM1394.6 591.3h17.0v17.0h-17.0zM1396.0 590.6h17.0v17.0h-17.0zM1397.4 590.0h17.0v17.0h-17.0zM1398.8 589.3h17.0v17.0h-17.0zM1400.1 588.7h17.0v17.0h-17.0zM1401.5 588.0h17.0v17.0h-17.0zM1402.9 587.4h17.0v17.0h-17.0zM1404.3 586.7h17.0v17.0h-17.0zM1405.7 586.1h17.0v17.0h-17.0zM1407.1 585.4h17.0v17.0h-17.0zM1408.5 584.8h17.0v17.0h-17.0zM1409.9 584.1h17.0v17.0h-17.0zM1411.3 583.5h17.0v17.0h-17.0zM1412.7 582.9h17.0v17.0h-17.0zM1414.0 582.3h17.0v17.0h-17.0zM1415.4 581.7h17.0v17.0h-17.0zM1416.8 581.1h17.0v17.0h-17.0zM1418.1 580.5h17.0v17.0h-17.0zM1419.5 579.9h17.0v17.0h-17.0zM1420.9 579.3h17.0v17.0h-17.0zM1422.3 578.8h17.0v17.0h-17.0zM1423.7 578.2h17.0v17.0h-17.0zM1425.1 577.6h17.0v17.0h-17.0zM1426.5 577.0h17.0v17.0h-17.0zM1427.8 576.4h17.0v17.0h-17.0zM1429.2 575.9h17.0v17.0h-17.0zM1430.6 575.3h17.0v17.0h-17.0zM1432.0 574.7h17.0v17.0h-17.0zM1433.4 574.1h17.0v17.0h-17.0zM1434.9 573.5h17.0v17.0h-17.0zM1436.3 572.9h17.0v17.0h-17.0zM1437.7 572.4h17.0v17.0h-17.0zM1439.1 571.8h17.0v17.0h-17.0zM1440.5 571.2h17.0v17.0h-17.0zM1441.9 570.6h17.0v17.0h-17.0zM1443.3 570.0h17.0v17.0h-17.0zM1444.7 569.4h17.0v17.0h-17.0zM1446.1 568.8h17.0v17.0h-17.0zM1447.5 568.2h17.0v17.0h-17.0zM1448.9 567.5h17.0v17.0h-17.0zM1450.3 566.9h17.0v17.0h-17.0zM1451.7 566.3h17.0v17.0h-17.0zM1453.0 565.7h17.0v17.0h-17.0zM1454.4 565.1h17.0v17.0h-17.0zM1455.7 564.5h17.0v17.0h-17.0zM1457.1 563.8h17.0v17.0h-17.0zM1458.5 563.2h17.0v17.0h-17.0zM1459.8 562.6h17.0v17.0h-17.0zM1461.2 562.0h17.0v17.0h-17.0zM1462.6 561.4h17.0v17.0h-17.0zM1463.9 560.8h17.0v17.0h-17.0zM1465.3 560.1h17.0v17.0h-17.0zM1466.7 559.5h17.0v17.0h-17.0zM1468.0 558.9h17.0v17.0h-17.0zM1469.4 558.3h17.0v17.0h-17.0zM1470.7 557.6h17.0v17.0h-17.0zM1472.1 557.0h17.0v17.0h-17.0zM1473.5 556.3h17.0v17.0h-17.0zM1474.8 555.7h17.0v17.0h-17.0zM1476.2 555.0h17.0v17.0h-17.0zM1477.6 554.4h17.0v17.0h-17.0zM1478.9 553.7h17.0v17.0h-17.0zM1480.3 553.1h17.0v17.0h-17.0zM1481.7 552.4h17.0v17.0h-17.0zM1483.0 551.7h17.0v17.0h-17.0zM1484.4 551.0h17.0v17.0h-17.0zM1485.7 550.3h17.0v17.0h-17.0zM1487.1 549.6h17.0v17.0h-17.0zM1488.5 548.9h17.0v17.0h-17.0zM1489.8 548.2h17.0v17.0h-17.0zM1491.2 547.5h17.0v17.0h-17.0zM1492.5 546.8h17.0v17.0h-17.0zM1493.8 546.1h17.0v17.0h-17.0zM1495.1 545.4h17.0v17.0h-17.0zM1496.4 544.7h17.0v17.0h-17.0zM1497.7 543.9h17.0v17.0h-17.0zM1499.0 543.2h17.0v17.0h-17.0zM1500.3 542.4h17.0v17.0h-17.0zM1501.6 541.7h17.0v17.0h-17.0zM1502.9 540.9h17.0v17.0h-17.0zM1504.2 540.2h17.0v17.0h-17.0zM1505.5 539.4h17.0v17.0h-17.0zM1506.8 538.6h17.0v17.0h-17.0zM1508.1 537.9h17.0v17.0h-17.0zM1509.4 537.1h17.0v17.0h-17.0zM1510.7 536.3h17.0v17.0h-17.0zM1512.0 535.5h17.0v17.0h-17.0zM1513.3 534.7h17.0v17.0h-17.0zM1514.6 533.9h17.0v17.0h-17.0zM1515.9 533.1h17.0v17.0h-17.0zM1517.2 532.4h17.0v17.0h-17.0zM1518.5 531.6h17.0v17.0h-17.0zM1519.8 530.8h17.0v17.0h-17.0zM1521.1 530.0h17.0v17.0h-17.0zM1522.4 529.2h17.0v17.0h-17.0zM1523.7 528.4h17.0v17.0h-17.0zM1525.0 527.6h17.0v17.0h-17.0zM1526.3 526.8h17.0v17.0h-17.0zM1527.6 526.1h17.0v17.0h-17.0zM1528.9 525.3h17.0v17.0h-17.0zM1530.2 524.5h17.0v17.0h-17.0zM1531.5 523.7h17.0v17.0h-17.0zM1532.8 523.0h17.0v17.0h-17.0zM1534.1 522.2h17.0v17.0h-17.0zM1535.4 521.5h17.0v17.0h-17.0zM1536.7 520.8h17.0v17.0h-17.0zM1538.0 520.0h17.0v17.0h-17.0zM1539.3 519.3h17.0v17.0h-17.0zM1540.6 518.6h17.0v17.0h-17.0zM1541.9 517.8h17.0v17.0h-17.0zM1543.1 517.1h17.0v17.0h-17.0zM1544.4 516.4h17.0v17.0h-17.0zM1545.7 515.7h17.0v17.0h-17.0zM1547.0 515.0h17.0v17.0h-17.0zM1548.3 514.2h17.0v17.0h-17.0zM1549.6 513.5h17.0v17.0h-17.0zM1550.8 512.8h17.0v17.0h-17.0zM1552.1 512.0h17.0v17.0h-17.0zM1553.4 511.3h17.0v17.0h-17.0zM1554.7 510.6h17.0v17.0h-17.0zM1556.0 509.8h17.0v17.0h-17.0zM1557.3 509.0h17.0v17.0h-17.0zM1558.6 508.3h17.0v17.0h-17.0zM1559.9 507.5h17.0v17.0h-17.0zM1561.2 506.7h17.0v17.0h-17.0zM1562.5 505.9h17.0v17.0h-17.0zM1563.9 505.1h17.0v17.0h-17.0zM1565.2 504.3h17.0v17.0h-17.0zM1566.5 503.4h17.0v17.0h-17.0zM1567.9 502.6h17.0v17.0h-17.0zM1569.2 501.7h17.0v17.0h-17.0zM1570.5 500.8h17.0v17.0h-17.0zM1571.8 500.0h17.0v17.0h-17.0zM1573.0 499.2h17.0v17.0h-17.0zM1574.2 498.3h17.0v17.0h-17.0zM1575.4 497.5h17.0v17.0h-17.0zM1576.6 496.6h17.0v17.0h-17.0zM1577.8 495.8h17.0v17.0h-17.0zM1579.1 494.9h17.0v17.0h-17.0zM1580.3 494.0h17.0v17.0h-17.0zM1581.6 493.0h17.0v17.0h-17.0zM1582.8 492.1h17.0v17.0h-17.0zM1584.1 491.2h17.0v17.0h-17.0zM1585.4 490.2h17.0v17.0h-17.0zM1586.7 489.3h17.0v17.0h-17.0zM1587.9 488.3h17.0v17.0h-17.0zM1589.2 487.3h17.0v17.0h-17.0zM1590.5 486.4h17.0v17.0h-17.0zM1591.8 485.4h17.0v17.0h-17.0zM1593.0 484.4h17.0v17.0h-17.0zM1594.3 483.5h17.0v17.0h-17.0zM1595.6 482.5h17.0v17.0h-17.0zM1596.8 481.5h17.0v17.0h-17.0zM1598.1 480.6h17.0v17.0h-17.0zM1599.3 479.6h17.0v17.0h-17.0zM1600.5 478.7h17.0v17.0h-17.0zM1601.8 477.8h17.0v17.0h-17.0zM1603.0 476.8h17.0v17.0h-17.0zM1604.2 475.9h17.0v17.0h-17.0zM1605.4 475.0h17.0v17.0h-17.0zM1606.5 474.2h17.0v17.0h-17.0zM1607.7 473.3h17.0v17.0h-17.0zM1608.8 472.4h17.0v17.0h-17.0zM1609.9 471.6h17.0v17.0h-17.0zM1611.0 470.8h17.0v17.0h-17.0zM1612.1 470.0h17.0v17.0h-17.0zM1613.2 469.2h17.0v17.0h-17.0zM1614.2 468.5h17.0v17.0h-17.0zM1615.2 467.8h17.0v17.0h-17.0zM1616.2 467.1h17.0v17.0h-17.0zM1617.2 466.4h17.0v17.0h-17.0zM1618.7 465.3h17.0v17.0h-17.0zM1620.1 464.3h17.0v17.0h-17.0zM1621.5 463.4h17.0v17.0h-17.0zM1622.9 462.4h17.0v17.0h-17.0zM1624.3 461.5h17.0v17.0h-17.0zM1625.6 460.6h17.0v17.0h-17.0zM1626.9 459.7h17.0v17.0h-17.0zM1628.2 458.8h17.0v17.0h-17.0zM1629.5 458.0h17.0v17.0h-17.0zM1630.7 457.2h17.0v17.0h-17.0zM1632.0 456.4h17.0v17.0h-17.0zM1633.2 455.6h17.0v17.0h-17.0zM1634.4 454.8h17.0v17.0h-17.0zM1635.5 454.0h17.0v17.0h-17.0zM1636.7 453.3h17.0v17.0h-17.0zM1637.8 452.5h17.0v17.0h-17.0zM1638.9 451.8h17.0v17.0h-17.0zM1640.0 451.1h17.0v17.0h-17.0zM1641.0 450.4h17.0v17.0h-17.0zM1642.1 449.7h17.0v17.0h-17.0zM1643.1 449.0h17.0v17.0h-17.0zM1644.3 448.1h17.0v17.0h-17.0zM1645.4 447.4h17.0v17.0h-17.0zM1646.4 446.7h17.0v17.0h-17.0zM1647.8 445.8h17.0v17.0h-17.0zM1649.1 444.8h17.0v17.0h-17.0zM1650.4 443.9h17.0v17.0h-17.0zM1651.7 443.0h17.0v17.0h-17.0zM1652.9 442.2h17.0v17.0h-17.0zM1654.1 441.4h17.0v17.0h-17.0zM1655.2 440.6h17.0v17.0h-17.0zM1656.3 439.8h17.0v17.0h-17.0zM1657.4 439.0h17.0v17.0h-17.0zM1658.5 438.2h17.0v17.0h-17.0zM1659.7 437.4h17.0v17.0h-17.0zM1660.8 436.5h17.0v17.0h-17.0zM1661.9 435.7h17.0v17.0h-17.0zM1663.1 434.8h17.0v17.0h-17.0zM1664.4 433.8h17.0v17.0h-17.0zM1665.6 432.8h17.0v17.0h-17.0zM1666.9 431.9h17.0v17.0h-17.0zM1668.1 430.9h17.0v17.0h-17.0zM1669.3 430.0h17.0v17.0h-17.0zM1670.4 429.0h17.0v17.0h-17.0zM1671.6 428.1h17.0v17.0h-17.0zM1672.8 427.1h17.0v17.0h-17.0zM1674.0 426.1h17.0v17.0h-17.0zM1675.1 425.2h17.0v17.0h-17.0zM1676.3 424.2h17.0v17.0h-17.0zM1677.5 423.3h17.0v17.0h-17.0zM1678.7 422.3h17.0v17.0h-17.0zM1679.9 421.3h17.0v17.0h-17.0zM1681.1 420.4h17.0v17.0h-17.0zM1682.3 419.4h17.0v17.0h-17.0zM1683.5 418.5h17.0v17.0h-17.0zM1684.7 417.6h17.0v17.0h-17.0zM1685.9 416.6h17.0v17.0h-17.0zM1687.0 415.7h17.0v17.0h-17.0zM1688.2 414.7h17.0v17.0h-17.0zM1689.4 413.8h17.0v17.0h-17.0zM1690.6 412.8h17.0v17.0h-17.0zM1691.8 411.8h17.0v17.0h-17.0zM1693.0 410.8h17.0v17.0h-17.0zM1694.2 409.9h17.0v17.0h-17.0zM1695.4 408.9h17.0v17.0h-17.0zM1696.5 407.9h17.0v17.0h-17.0zM1697.7 407.0h17.0v17.0h-17.0zM1698.9 406.0h17.0v17.0h-17.0zM1700.1 405.0h17.0v17.0h-17.0zM1701.3 404.0h17.0v17.0h-17.0zM1702.5 403.0h17.0v17.0h-17.0zM1703.7 402.0h17.0v17.0h-17.0zM1704.9 401.0h17.0v17.0h-17.0zM1706.1 400.0h17.0v17.0h-17.0zM1707.2 399.0h17.0v17.0h-17.0zM1708.3 398.0h17.0v17.0h-17.0zM1709.4 397.0h17.0v17.0h-17.0zM1710.4 396.0h17.0v17.0h-17.0zM1711.4 395.0h17.0v17.0h-17.0zM1712.6 393.8h17.0v17.0h-17.0zM1713.7 392.6h17.0v17.0h-17.0zM1714.8 391.4h17.0v17.0h-17.0zM1715.8 390.2h17.0v17.0h-17.0zM1716.8 389.0h17.0v17.0h-17.0zM1717.8 387.8h17.0v17.0h-17.0zM1718.7 386.6h17.0v17.0h-17.0zM1719.6 385.4h17.0v17.0h-17.0zM1720.4 384.2h17.0v17.0h-17.0zM1721.1 383.0h17.0v17.0h-17.0zM1721.9 381.7h17.0v17.0h-17.0zM1722.5 380.4h17.0v17.0h-17.0zM1723.2 379.0h17.0v17.0h-17.0zM1723.8 377.6h17.0v17.0h-17.0zM1724.3 376.1h17.0v17.0h-17.0zM1724.7 374.7h17.0v17.0h-17.0zM1725.1 373.2h17.0v17.0h-17.0zM1725.5 371.7h17.0v17.0h-17.0zM1725.8 370.2h17.0v17.0h-17.0zM1726.1 368.7h17.0v17.0h-17.0zM1726.3 367.2h17.0v17.0h-17.0zM1726.5 365.6h17.0v17.0h-17.0zM1726.7 364.1h17.0v17.0h-17.0zM1726.8 362.6h17.0v17.0h-17.0zM1727.0 361.0h17.0v17.0h-17.0zM1727.1 359.4h17.0v17.0h-17.0zM1727.2 357.8h17.0v17.0h-17.0zM1727.2 356.2h17.0v17.0h-17.0zM1727.2 354.6h17.0v17.0h-17.0zM1727.1 353.1h17.0v17.0h-17.0zM1727.0 351.5h17.0v17.0h-17.0zM1726.8 350.1h17.0v17.0h-17.0zM1726.6 348.7h17.0v17.0h-17.0zM1726.3 347.2h17.0v17.0h-17.0zM1725.8 345.6h17.0v17.0h-17.0zM1725.4 344.2h17.0v17.0h-17.0zM1724.8 342.7h17.0v17.0h-17.0zM1724.2 341.4h17.0v17.0h-17.0zM1723.5 340.0h17.0v17.0h-17.0zM1722.7 338.7h17.0v17.0h-17.0zM1721.8 337.5h17.0v17.0h-17.0zM1720.7 336.2h17.0v17.0h-17.0zM1719.5 335.0h17.0v17.0h-17.0zM1718.5 334.2h17.0v17.0h-17.0zM1717.4 333.3h17.0v17.0h-17.0zM1716.3 332.5h17.0v17.0h-17.0zM1715.0 331.7h17.0v17.0h-17.0zM1713.7 330.9h17.0v17.0h-17.0zM1712.3 330.1h17.0v17.0h-17.0zM1710.9 329.4h17.0v17.0h-17.0zM1709.5 328.7h17.0v17.0h-17.0zM1708.0 328.0h17.0v17.0h-17.0zM1706.6 327.3h17.0v17.0h-17.0zM1705.1 326.6h17.0v17.0h-17.0zM1703.7 326.0h17.0v17.0h-17.0zM1702.4 325.4h17.0v17.0h-17.0zM1701.0 324.8h17.0v17.0h-17.0zM1699.5 324.2h17.0v17.0h-17.0zM1698.1 323.6h17.0v17.0h-17.0zM1696.6 323.0h17.0v17.0h-17.0zM1695.1 322.5h17.0v17.0h-17.0zM1693.6 322.1h17.0v17.0h-17.0zM1692.2 321.6h17.0v17.0h-17.0zM1690.7 321.2h17.0v17.0h-17.0zM1689.3 320.8h17.0v17.0h-17.0zM1687.8 320.4h17.0v17.0h-17.0zM1686.4 320.0h17.0v17.0h-17.0zM1685.0 319.7h17.0v17.0h-17.0zM1683.6 319.4h17.0v17.0h-17.0zM1682.0 319.1h17.0v17.0h-17.0zM1680.5 318.8h17.0v17.0h-17.0zM1679.0 318.6h17.0v17.0h-17.0zM1677.5 318.4h17.0v17.0h-17.0zM1676.0 318.2h17.0v17.0h-17.0zM1674.6 318.1h17.0v17.0h-17.0zM1673.1 317.9h17.0v17.0h-17.0zM1671.6 317.8h17.0v17.0h-17.0zM1670.1 317.7h17.0v17.0h-17.0zM1668.5 317.5h17.0v17.0h-17.0zM1667.0 317.3h17.0v17.0h-17.0zM1665.6 317.2h17.0v17.0h-17.0zM1664.0 317.1h17.0v17.0h-17.0zM1662.5 316.9h17.0v17.0h-17.0zM1661.0 316.8h17.0v17.0h-17.0zM1659.5 316.6h17.0v17.0h-17.0zM1657.9 316.5h17.0v17.0h-17.0zM1656.4 316.4h17.0v17.0h-17.0zM1654.9 316.3h17.0v17.0h-17.0zM1653.4 316.2h17.0v17.0h-17.0zM1652.0 316.0h17.0v17.0h-17.0zM1650.4 315.9h17.0v17.0h-17.0zM1648.7 315.8h17.0v17.0h-17.0zM1647.0 315.7h17.0v17.0h-17.0zM1645.2 315.6h17.0v17.0h-17.0zM1643.5 315.4h17.0v17.0h-17.0zM1641.8 315.3h17.0v17.0h-17.0zM1640.3 315.2h17.0v17.0h-17.0zM1638.9 315.2h17.0v17.0h-17.0zM1637.4 315.1h17.0v17.0h-17.0zM1636.5 315.0h17.0v17.0h-17.0zM1571.0 285.5h17.0v17.0h-17.0zM1570.8 286.8h17.0v17.0h-17.0zM1570.8 287.9h17.0v17.0h-17.0zM1571.3 289.5h17.0v17.0h-17.0zM1571.8 290.5h17.0v17.0h-17.0zM1572.3 291.7h17.0v17.0h-17.0zM1573.0 293.0h17.0v17.0h-17.0zM1573.5 293.9h17.0v17.0h-17.0zM1574.1 294.8h17.0v17.0h-17.0zM1574.6 295.8h17.0v17.0h-17.0zM1575.2 296.8h17.0v17.0h-17.0zM1575.8 297.7h17.0v17.0h-17.0zM1576.3 298.7h17.0v17.0h-17.0zM1576.9 299.6h17.0v17.0h-17.0zM1577.5 300.5h17.0v17.0h-17.0zM1578.1 301.4h17.0v17.0h-17.0zM1578.7 302.2h17.0v17.0h-17.0zM1579.4 303.2h17.0v17.0h-17.0zM1580.1 304.1h17.0v17.0h-17.0zM1580.8 305.1h17.0v17.0h-17.0zM1581.5 306.0h17.0v17.0h-17.0zM1582.2 306.9h17.0v17.0h-17.0zM1582.9 307.7h17.0v17.0h-17.0zM1583.6 308.6h17.0v17.0h-17.0zM1584.4 309.6h17.0v17.0h-17.0zM1585.1 310.5h17.0v17.0h-17.0zM1585.5 311.0h17.0v17.0h-17.0zM633 788H647V806.5H633zM671.8 791.1H686.2V810.2H671.8zM764.4 787.2H781.1V806.1H764.4zM778.3 791.1H795.5V809.4H778.3zM831 793.3H846.5V813.3H831zM865 801H880V814H865zM890.5 780.5H905.1V800.5H890.5zM912.7 780.5H926V813.8H912.7zM1451.2 1153H1467.9V1170.5H1451.2zM1617.1 310H1634.9V328.2H1617.1z" fill="#000"/>
<line x1="399" y1="755.8" x2="600" y2="755.8" stroke="#f00" stroke-width="6"/>
<polyline points="595,749.3 622,749.3 640,757 700,757" fill="none" stroke="#f00" stroke-width="3"/>
<path d="M399.0 744.2l10.5 19.5h-21zM554.0 744.5l10.5 19.5h-21zM583.0 740.2l10.5 19.5h-21zM611.0 748.1l10.5 19.5h-21zM632.6 738.2l10.5 19.5h-21zM653.0 748.1l10.5 19.5h-21zM664.5 738.2l10.5 19.5h-21zM682.0 751.5l10.5 19.5h-21zM691.0 734.2l10.5 19.5h-21zM705.0 751.5l10.5 19.5h-21zM708.0 734.2l10.5 19.5h-21zM492.8 740.8l10.5 22.5h-21zM690.0 753.2l10.25 19.5h-20.5zM691.3 753.1l10.25 19.5h-20.5zM692.5 753.1l10.25 19.5h-20.5zM693.9 753.1l10.25 19.5h-20.5zM695.7 753.1l10.25 19.5h-20.5zM697.2 753.2l10.25 19.5h-20.5zM699.0 753.2l10.25 19.5h-20.5zM700.4 753.3l10.25 19.5h-20.5zM701.8 753.4l10.25 19.5h-20.5zM703.4 753.6l10.25 19.5h-20.5zM704.7 753.7l10.25 19.5h-20.5zM706.0 753.8l10.25 19.5h-20.5zM707.4 754.0l10.25 19.5h-20.5zM708.9 754.1l10.25 19.5h-20.5zM710.4 754.3l10.25 19.5h-20.5zM711.9 754.4l10.25 19.5h-20.5zM713.5 754.6l10.25 19.5h-20.5zM715.1 754.8l10.25 19.5h-20.5zM716.8 754.9l10.25 19.5h-20.5zM718.4 755.1l10.25 19.5h-20.5zM720.1 755.3l10.25 19.5h-20.5zM721.8 755.5l10.25 19.5h-20.5zM723.4 755.7l10.25 19.5h-20.5zM725.1 755.8l10.25 19.5h-20.5zM726.7 756.0l10.25 19.5h-20.5zM728.4 756.2l10.25 19.5h-20.5zM730.0 756.4l10.25 19.5h-20.5zM731.5 756.5l10.25 19.5h-20.5zM733.1 756.7l10.25 19.5h-20.5zM734.6 756.9l10.25 19.5h-20.5zM736.1 757.0l10.25 19.5h-20.5zM737.7 757.2l10.25 19.5h-20.5zM739.3 757.4l10.25 19.5h-20.5zM740.9 757.5l10.25 19.5h-20.5zM742.6 757.7l10.25 19.5h-20.5zM744.2 757.9l10.25 19.5h-20.5zM745.9 758.1l10.25 19.5h-20.5zM747.5 758.2l10.25 19.5h-20.5zM749.1 758.4l10.25 19.5h-20.5zM750.7 758.6l10.25 19.5h-20.5zM752.3 758.7l10.25 19.5h-20.5zM753.9 758.9l10.25 19.5h-20.5zM755.5 759.1l10.25 19.5h-20.5zM757.0 759.2l10.25 19.5h-20.5zM758.4 759.4l10.25 19.5h-20.5zM759.8 759.5l10.25 19.5h-20.5zM761.2 759.6l10.25 19.5h-20.5zM762.5 759.8l10.25 19.5h-20.5zM763.8 759.9l10.25 19.5h-20.5zM765.3 760.1l10.25 19.5h-20.5zM766.9 760.2l10.25 19.5h-20.5zM768.4 760.4l10.25 19.5h-20.5zM769.7 760.5l10.25 19.5h-20.5zM771.3 760.7l10.25 19.5h-20.5zM772.7 760.9l10.25 19.5h-20.5zM773.9 761.1l10.25 19.5h-20.5zM775.5 761.3l10.25 19.5h-20.5zM776.6 761.6l10.25 19.5h-20.5zM777.9 761.8l10.25 19.5h-20.5zM779.5 762.1l10.25 19.5h-20.5zM780.9 762.3l10.25 19.5h-20.5zM782.3 762.5l10.25 19.5h-20.5zM783.7 762.6l10.25 19.5h-20.5zM785.1 762.8l10.25 19.5h-20.5zM786.6 762.9l10.25 19.5h-20.5zM788.1 763.1l10.25 19.5h-20.5zM789.7 763.2l10.25 19.5h-20.5zM791.2 763.3l10.25 19.5h-20.5zM792.8 763.4l10.25 19.5h-20.5zM794.4 763.6l10.25 19.5h-20.5zM796.0 763.7l10.25 19.5h-20.5zM797.5 763.8l10.25 19.5h-20.5zM799.1 764.0l10.25 19.5h-20.5zM800.6 764.1l10.25 19.5h-20.5zM802.1 764.3l10.25 19.5h-20.5zM803.6 764.5l10.25 19.5h-20.5zM805.1 764.7l10.25 19.5h-20.5zM806.6 764.9l10.25 19.5h-20.5zM808.1 765.1l10.25 19.5h-20.5zM809.7 765.4l10.25 19.5h-20.5zM811.2 765.6l10.25 19.5h-20.5zM812.7 765.9l10.25 19.5h-20.5zM814.2 766.1l10.25 19.5h-20.5zM815.7 766.4l10.25 19.5h-20.5zM817.2 766.7l10.25 19.5h-20.5zM818.7 767.0l10.25 19.5h-20.5zM820.2 767.2l10.25 19.5h-20.5zM821.7 767.6l10.25 19.5h-20.5zM823.2 767.9l10.25 19.5h-20.5zM824.7 768.2l10.25 19.5h-20.5zM826.2 768.5l10.25 19.5h-20.5zM827.6 768.9l10.25 19.5h-20.5zM829.1 769.3l10.25 19.5h-20.5zM830.6 769.6l10.25 19.5h-20.5zM832.1 770.0l10.25 19.5h-20.5zM833.6 770.4l10.25 19.5h-20.5zM835.0 770.8l10.25 19.5h-20.5zM836.5 771.2l10.25 19.5h-20.5zM838.0 771.6l10.25 19.5h-20.5zM839.4 772.1l10.25 19.5h-20.5zM840.9 772.5l10.25 19.5h-20.5zM842.3 772.9l10.25 19.5h-20.5zM843.8 773.3l10.25 19.5h-20.5zM845.2 773.8l10.25 19.5h-20.5zM846.6 774.2l10.25 19.5h-20.5zM848.1 774.6l10.25 19.5h-20.5zM849.5 775.0l10.25 19.5h-20.5zM851.0 775.4l10.25 19.5h-20.5zM852.4 775.9l10.25 19.5h-20.5zM853.9 776.3l10.25 19.5h-20.5zM855.3 776.8l10.25 19.5h-20.5zM856.8 777.2l10.25 19.5h-20.5zM858.2 777.7l10.25 19.5h-20.5zM859.7 778.2l10.25 19.5h-20.5zM861.1 778.7l10.25 19.5h-20.5zM862.6 779.2l10.25 19.5h-20.5zM864.0 779.8l10.25 19.5h-20.5zM865.5 780.3l10.25 19.5h-20.5zM867.0 780.9l10.25 19.5h-20.5zM868.5 781.5l10.25 19.5h-20.5zM869.9 782.1l10.25 19.5h-20.5zM871.4 782.7l10.25 19.5h-20.5zM872.9 783.3l10.25 19.5h-20.5zM874.3 784.0l10.25 19.5h-20.5zM875.7 784.6l10.25 19.5h-20.5zM877.1 785.2l10.25 19.5h-20.5zM878.5 785.8l10.25 19.5h-20.5zM879.9 786.5l10.25 19.5h-20.5zM881.2 787.1l10.25 19.5h-20.5zM882.7 787.8l10.25 19.5h-20.5zM884.1 788.6l10.25 19.5h-20.5zM885.5 789.3l10.25 19.5h-20.5zM886.8 790.1l10.25 19.5h-20.5zM888.2 790.9l10.25 19.5h-20.5zM889.5 791.6l10.25 19.5h-20.5zM890.7 792.4l10.25 19.5h-20.5zM892.0 793.2l10.25 19.5h-20.5zM893.2 794.1l10.25 19.5h-20.5zM894.5 794.9l10.25 19.5h-20.5zM895.7 795.8l10.25 19.5h-20.5zM897.0 796.8l10.25 19.5h-20.5zM898.2 797.7l10.25 19.5h-20.5zM899.3 798.6l10.25 19.5h-20.5zM900.5 799.5l10.25 19.5h-20.5zM901.6 800.4l10.25 19.5h-20.5zM902.8 801.3l10.25 19.5h-20.5zM903.9 802.3l10.25 19.5h-20.5zM905.1 803.3l10.25 19.5h-20.5zM906.2 804.3l10.25 19.5h-20.5zM907.4 805.4l10.25 19.5h-20.5zM908.5 806.5l10.25 19.5h-20.5zM909.7 807.7l10.25 19.5h-20.5zM910.9 808.9l10.25 19.5h-20.5zM912.0 810.0l10.25 19.5h-20.5zM913.0 811.0l10.25 19.5h-20.5zM914.0 812.1l10.25 19.5h-20.5zM915.0 813.1l10.25 19.5h-20.5zM916.0 814.3l10.25 19.5h-20.5zM917.1 815.4l10.25 19.5h-20.5zM918.1 816.5l10.25 19.5h-20.5zM919.2 817.7l10.25 19.5h-20.5zM920.3 818.9l10.25 19.5h-20.5zM921.3 820.1l10.25 19.5h-20.5zM922.4 821.3l10.25 19.5h-20.5zM923.5 822.6l10.25 19.5h-20.5zM924.5 823.8l10.25 19.5h-20.5zM925.5 825.0l10.25 19.5h-20.5zM926.5 826.3l10.25 19.5h-20.5zM927.5 827.5l10.25 19.5h-20.5zM928.5 828.7l10.25 19.5h-20.5zM929.4 830.0l10.25 19.5h-20.5zM930.4 831.3l10.25 19.5h-20.5zM931.3 832.6l10.25 19.5h-20.5zM932.2 833.9l10.25 19.5h-20.5zM933.1 835.2l10.25 19.5h-20.5zM934.0 836.5l10.25 19.5h-20.5zM934.9 837.9l10.25 19.5h-20.5zM935.7 839.2l10.25 19.5h-20.5zM936.6 840.6l10.25 19.5h-20.5zM937.4 841.9l10.25 19.5h-20.5zM938.2 843.3l10.25 19.5h-20.5zM938.9 844.6l10.25 19.5h-20.5zM939.6 846.1l10.25 19.5h-20.5zM940.1 847.5l10.25 19.5h-20.5zM940.6 849.0l10.25 19.5h-20.5zM941.1 850.5l10.25 19.5h-20.5zM941.5 852.1l10.25 19.5h-20.5zM942.0 853.8l10.25 19.5h-20.5zM942.3 855.4l10.25 19.5h-20.5zM942.7 857.0l10.25 19.5h-20.5zM943.0 858.6l10.25 19.5h-20.5zM943.3 860.2l10.25 19.5h-20.5zM943.6 861.7l10.25 19.5h-20.5zM943.9 863.3l10.25 19.5h-20.5zM944.3 864.8l10.25 19.5h-20.5zM944.6 866.3l10.25 19.5h-20.5zM944.9 867.7l10.25 19.5h-20.5zM945.2 869.1l10.25 19.5h-20.5zM945.6 870.5l10.25 19.5h-20.5zM945.9 871.9l10.25 19.5h-20.5zM946.3 873.4l10.25 19.5h-20.5zM946.6 874.8l10.25 19.5h-20.5zM946.9 876.0l10.25 19.5h-20.5zM947.0 877.3l10.25 19.5h-20.5zM947.1 878.5l10.25 19.5h-20.5zM947.2 879.9l10.25 19.5h-20.5zM947.2 881.3l10.25 19.5h-20.5zM947.3 882.8l10.25 19.5h-20.5zM947.4 884.6l10.25 19.5h-20.5zM947.4 885.9l10.25 19.5h-20.5zM947.4 887.4l10.25 19.5h-20.5zM947.5 889.0l10.25 19.5h-20.5zM947.6 890.5l10.25 19.5h-20.5zM947.7 892.0l10.25 19.5h-20.5zM947.7 893.3l10.25 19.5h-20.5zM947.7 894.6l10.25 19.5h-20.5zM947.8 895.9l10.25 19.5h-20.5zM947.9 897.3l10.25 19.5h-20.5zM947.9 898.7l10.25 19.5h-20.5zM948.0 900.1l10.25 19.5h-20.5zM948.0 901.5l10.25 19.5h-20.5zM948.1 903.0l10.25 19.5h-20.5zM948.2 904.6l10.25 19.5h-20.5zM948.2 906.1l10.25 19.5h-20.5zM948.3 907.7l10.25 19.5h-20.5zM948.4 909.3l10.25 19.5h-20.5zM948.4 910.9l10.25 19.5h-20.5zM948.5 912.5l10.25 19.5h-20.5zM948.6 914.2l10.25 19.5h-20.5zM948.6 915.8l10.25 19.5h-20.5zM948.7 917.5l10.25 19.5h-20.5zM948.7 919.2l10.25 19.5h-20.5zM948.8 920.9l10.25 19.5h-20.5zM948.9 922.6l10.25 19.5h-20.5zM948.9 924.3l10.25 19.5h-20.5zM949.0 926.0l10.25 19.5h-20.5zM949.1 927.7l10.25 19.5h-20.5zM949.1 929.1l10.25 19.5h-20.5zM949.1 930.5l10.25 19.5h-20.5zM949.2 931.9l10.25 19.5h-20.5zM949.2 933.3l10.25 19.5h-20.5zM949.3 934.7l10.25 19.5h-20.5zM949.3 936.2l10.25 19.5h-20.5zM949.3 937.6l10.25 19.5h-20.5zM949.4 939.1l10.25 19.5h-20.5zM949.4 940.5l10.25 19.5h-20.5zM949.4 942.0l10.25 19.5h-20.5zM949.5 943.5l10.25 19.5h-20.5zM949.5 945.0l10.25 19.5h-20.5zM949.5 946.5l10.25 19.5h-20.5zM949.6 948.0l10.25 19.5h-20.5zM949.6 949.6l10.25 19.5h-20.5zM949.6 951.1l10.25 19.5h-20.5zM949.7 952.6l10.25 19.5h-20.5zM949.7 954.2l10.25 19.5h-20.5zM949.7 955.7l10.25 19.5h-20.5zM949.8 957.3l10.25 19.5h-20.5zM949.8 958.8l10.25 19.5h-20.5zM949.8 960.4l10.25 19.5h-20.5zM949.9 961.9l10.25 19.5h-20.5zM949.9 963.5l10.25 19.5h-20.5zM949.9 965.0l10.25 19.5h-20.5zM950.0 966.6l10.25 19.5h-20.5zM950.0 968.1l10.25 19.5h-20.5zM950.0 969.6l10.25 19.5h-20.5zM950.1 971.2l10.25 19.5h-20.5zM950.1 972.7l10.25 19.5h-20.5zM950.2 974.2l10.25 19.5h-20.5zM950.2 975.7l10.25 19.5h-20.5zM950.2 977.2l10.25 19.5h-20.5zM950.3 978.7l10.25 19.5h-20.5zM950.3 980.2l10.25 19.5h-20.5zM950.3 981.7l10.25 19.5h-20.5zM950.3 983.2l10.25 19.5h-20.5zM950.3 984.7l10.25 19.5h-20.5zM950.4 986.2l10.25 19.5h-20.5zM950.4 987.7l10.25 19.5h-20.5zM950.4 989.2l10.25 19.5h-20.5zM950.4 990.7l10.25 19.5h-20.5zM950.5 992.2l10.25 19.5h-20.5zM950.5 993.7l10.25 19.5h-20.5zM950.5 995.2l10.25 19.5h-20.5zM950.5 996.7l10.25 19.5h-20.5zM950.6 998.2l10.25 19.5h-20.5zM950.6 999.7l10.25 19.5h-20.5zM950.6 1001.2l10.25 19.5h-20.5zM950.6 1002.7l10.25 19.5h-20.5zM950.7 1004.2l10.25 19.5h-20.5zM950.7 1005.7l10.25 19.5h-20.5zM950.7 1007.2l10.25 19.5h-20.5zM950.8 1008.7l10.25 19.5h-20.5zM950.8 1010.2l10.25 19.5h-20.5zM950.8 1011.7l10.25 19.5h-20.5zM950.9 1013.2l10.25 19.5h-20.5zM950.9 1014.7l10.25 19.5h-20.5zM951.0 1016.2l10.25 19.5h-20.5zM951.0 1017.7l10.25 19.5h-20.5zM951.0 1019.2l10.25 19.5h-20.5zM951.1 1020.7l10.25 19.5h-20.5zM951.1 1022.2l10.25 19.5h-20.5zM951.2 1023.7l10.25 19.5h-20.5zM951.3 1025.2l10.25 19.5h-20.5zM951.3 1026.7l10.25 19.5h-20.5zM951.4 1028.2l10.25 19.5h-20.5zM951.5 1029.7l10.25 19.5h-20.5zM951.6 1031.2l10.25 19.5h-20.5zM951.6 1032.7l10.25 19.5h-20.5zM951.7 1034.2l10.25 19.5h-20.5zM951.8 1035.7l10.25 19.5h-20.5zM951.9 1037.2l10.25 19.5h-20.5zM952.0 1038.7l10.25 19.5h-20.5zM952.0 1040.2l10.25 19.5h-20.5zM952.1 1041.7l10.25 19.5h-20.5zM952.2 1043.2l10.25 19.5h-20.5zM952.3 1044.7l10.25 19.5h-20.5zM952.4 1046.2l10.25 19.5h-20.5zM952.4 1047.7l10.25 19.5h-20.5zM952.5 1049.2l10.25 19.5h-20.5zM952.6 1050.7l10.25 19.5h-20.5zM952.6 1052.2l10.25 19.5h-20.5zM952.7 1053.7l10.25 19.5h-20.5zM952.8 1055.2l10.25 19.5h-20.5zM952.8 1056.7l10.25 19.5h-20.5zM952.9 1058.2l10.25 19.5h-20.5zM952.9 1059.7l10.25 19.5h-20.5zM953.0 1061.2l10.25 19.5h-20.5zM953.0 1062.7l10.25 19.5h-20.5zM953.1 1064.2l10.25 19.5h-20.5zM953.1 1065.7l10.25 19.5h-20.5zM953.1 1067.2l10.25 19.5h-20.5zM953.1 1068.7l10.25 19.5h-20.5zM953.2 1070.2l10.25 19.5h-20.5zM953.2 1071.7l10.25 19.5h-20.5zM953.2 1073.2l10.25 19.5h-20.5zM953.1 1074.7l10.25 19.5h-20.5zM953.1 1076.3l10.25 19.5h-20.5zM953.1 1077.8l10.25 19.5h-20.5zM953.1 1079.3l10.25 19.5h-20.5zM953.1 1080.9l10.25 19.5h-20.5zM953.0 1082.5l10.25 19.5h-20.5zM953.0 1084.1l10.25 19.5h-20.5zM953.0 1085.8l10.25 19.5h-20.5zM952.9 1087.4l10.25 19.5h-20.5zM952.9 1089.1l10.25 19.5h-20.5zM952.9 1090.7l10.25 19.5h-20.5zM952.8 1092.4l10.25 19.5h-20.5zM952.8 1094.1l10.25 19.5h-20.5zM952.7 1095.8l10.25 19.5h-20.5zM952.7 1097.4l10.25 19.5h-20.5zM952.7 1099.1l10.25 19.5h-20.5zM952.6 1100.7l10.25 19.5h-20.5zM952.6 1102.4l10.25 19.5h-20.5zM952.6 1104.0l10.25 19.5h-20.5zM952.5 1105.6l10.25 19.5h-20.5zM952.5 1107.2l10.25 19.5h-20.5zM952.5 1108.7l10.25 19.5h-20.5zM952.4 1110.2l10.25 19.5h-20.5zM952.4 1111.7l10.25 19.5h-20.5zM952.4 1113.2l10.25 19.5h-20.5zM952.4 1114.6l10.25 19.5h-20.5zM952.4 1116.0l10.25 19.5h-20.5zM952.4 1117.4l10.25 19.5h-20.5zM952.4 1118.7l10.25 19.5h-20.5zM952.4 1119.9l10.25 19.5h-20.5zM952.5 1121.1l10.25 19.5h-20.5zM952.6 1122.7l10.25 19.5h-20.5zM952.6 1124.1l10.25 19.5h-20.5zM952.7 1125.8l10.25 19.5h-20.5zM952.8 1127.6l10.25 19.5h-20.5zM953.0 1129.2l10.25 19.5h-20.5zM953.2 1130.6l10.25 19.5h-20.5zM953.5 1131.7l10.25 19.5h-20.5zM953.9 1133.2l10.25 19.5h-20.5zM954.3 1134.4l10.25 19.5h-20.5zM954.6 1135.7l10.25 19.5h-20.5zM955.0 1137.0l10.25 19.5h-20.5zM955.2 1138.3l10.25 19.5h-20.5zM955.3 1139.6l10.25 19.5h-20.5zM955.4 1141.2l10.25 19.5h-20.5zM955.4 1142.8l10.25 19.5h-20.5zM955.6 1144.5l10.25 19.5h-20.5zM955.8 1146.1l10.25 19.5h-20.5zM956.3 1147.6l10.25 19.5h-20.5zM957.1 1148.9l10.25 19.5h-20.5zM958.2 1150.0l10.25 19.5h-20.5zM959.5 1150.6l10.25 19.5h-20.5zM960.1 1151.2l10.25 19.5h-20.5zM960.2 1152.1l10.25 19.5h-20.5zM960.5 1153.0l10.25 19.5h-20.5zM961.1 1154.0l10.25 19.5h-20.5zM961.9 1155.0l10.25 19.5h-20.5zM963.1 1155.9l10.25 19.5h-20.5zM964.4 1156.6l10.25 19.5h-20.5zM965.9 1157.3l10.25 19.5h-20.5zM967.4 1157.8l10.25 19.5h-20.5zM968.9 1158.4l10.25 19.5h-20.5zM970.4 1158.9l10.25 19.5h-20.5zM971.8 1159.4l10.25 19.5h-20.5zM973.3 1159.9l10.25 19.5h-20.5zM974.8 1160.4l10.25 19.5h-20.5zM976.4 1160.8l10.25 19.5h-20.5zM978.0 1161.1l10.25 19.5h-20.5zM979.6 1161.5l10.25 19.5h-20.5zM981.2 1161.7l10.25 19.5h-20.5zM982.6 1162.0l10.25 19.5h-20.5zM984.0 1162.2l10.25 19.5h-20.5zM985.1 1162.5l10.25 19.5h-20.5zM986.6 1162.7l10.25 19.5h-20.5zM987.9 1163.0l10.25 19.5h-20.5zM989.5 1163.2l10.25 19.5h-20.5zM990.8 1163.4l10.25 19.5h-20.5zM992.1 1163.6l10.25 19.5h-20.5zM690.0 740.5l10.25 19.5h-20.5zM691.2 740.4l10.25 19.5h-20.5zM692.5 740.3l10.25 19.5h-20.5zM693.8 740.1l10.25 19.5h-20.5zM695.6 739.8l10.25 19.5h-20.5zM697.1 739.5l10.25 19.5h-20.5zM698.9 739.2l10.25 19.5h-20.5zM700.2 738.8l10.25 19.5h-20.5zM701.6 738.5l10.25 19.5h-20.5zM703.1 738.2l10.25 19.5h-20.5zM704.3 737.9l10.25 19.5h-20.5zM705.6 737.7l10.25 19.5h-20.5zM707.0 737.4l10.25 19.5h-20.5zM708.4 737.1l10.25 19.5h-20.5zM709.9 736.8l10.25 19.5h-20.5zM711.4 736.4l10.25 19.5h-20.5zM713.0 736.1l10.25 19.5h-20.5zM714.6 735.8l10.25 19.5h-20.5zM716.2 735.5l10.25 19.5h-20.5zM717.8 735.1l10.25 19.5h-20.5zM719.5 734.8l10.25 19.5h-20.5zM721.1 734.5l10.25 19.5h-20.5zM722.8 734.2l10.25 19.5h-20.5zM724.4 733.9l10.25 19.5h-20.5zM726.1 733.5l10.25 19.5h-20.5zM727.7 733.3l10.25 19.5h-20.5zM729.3 733.0l10.25 19.5h-20.5zM730.8 732.7l10.25 19.5h-20.5zM732.4 732.5l10.25 19.5h-20.5zM733.9 732.2l10.25 19.5h-20.5zM735.4 732.0l10.25 19.5h-20.5zM737.0 731.7l10.25 19.5h-20.5zM738.6 731.5l10.25 19.5h-20.5zM740.2 731.3l10.25 19.5h-20.5zM741.8 731.0l10.25 19.5h-20.5zM743.5 730.8l10.25 19.5h-20.5zM745.1 730.5l10.25 19.5h-20.5zM746.8 730.3l10.25 19.5h-20.5zM748.4 730.1l10.25 19.5h-20.5zM750.0 729.8l10.25 19.5h-20.5zM751.6 729.6l10.25 19.5h-20.5zM753.2 729.4l10.25 19.5h-20.5zM754.8 729.2l10.25 19.5h-20.5zM756.3 728.9l10.25 19.5h-20.5zM757.8 728.7l10.25 19.5h-20.5zM759.2 728.5l10.25 19.5h-20.5zM760.6 728.3l10.25 19.5h-20.5zM761.9 728.1l10.25 19.5h-20.5zM763.2 727.9l10.25 19.5h-20.5zM764.4 727.7l10.25 19.5h-20.5zM765.9 727.5l10.25 19.5h-20.5zM767.4 727.2l10.25 19.5h-20.5zM768.8 727.0l10.25 19.5h-20.5zM770.0 726.7l10.25 19.5h-20.5zM771.5 726.5l10.25 19.5h-20.5zM772.9 726.2l10.25 19.5h-20.5zM774.0 726.0l10.25 19.5h-20.5zM775.6 725.7l10.25 19.5h-20.5zM776.8 725.5l10.25 19.5h-20.5zM778.2 725.3l10.25 19.5h-20.5zM779.9 725.0l10.25 19.5h-20.5zM781.2 724.8l10.25 19.5h-20.5zM782.6 724.7l10.25 19.5h-20.5zM784.0 724.5l10.25 19.5h-20.5zM785.5 724.3l10.25 19.5h-20.5zM787.0 724.1l10.25 19.5h-20.5zM788.5 723.8l10.25 19.5h-20.5zM790.0 723.6l10.25 19.5h-20.5zM791.6 723.3l10.25 19.5h-20.5zM793.1 723.0l10.25 19.5h-20.5zM794.7 722.7l10.25 19.5h-20.5zM796.2 722.3l10.25 19.5h-20.5zM797.8 722.0l10.25 19.5h-20.5zM799.2 721.6l10.25 19.5h-20.5zM800.7 721.1l10.25 19.5h-20.5zM802.1 720.7l10.25 19.5h-20.5zM803.5 720.2l10.25 19.5h-20.5zM805.0 719.7l10.25 19.5h-20.5zM806.4 719.2l10.25 19.5h-20.5zM807.8 718.7l10.25 19.5h-20.5zM809.3 718.2l10.25 19.5h-20.5zM810.7 717.7l10.25 19.5h-20.5zM812.2 717.3l10.25 19.5h-20.5zM813.7 716.8l10.25 19.5h-20.5zM815.1 716.3l10.25 19.5h-20.5zM816.6 715.9l10.25 19.5h-20.5zM818.1 715.5l10.25 19.5h-20.5zM819.6 715.1l10.25 19.5h-20.5zM821.1 714.7l10.25 19.5h-20.5zM822.6 714.3l10.25 19.5h-20.5zM824.0 714.0l10.25 19.5h-20.5zM825.5 713.6l10.25 19.5h-20.5zM827.0 713.2l10.25 19.5h-20.5zM828.4 712.8l10.25 19.5h-20.5zM829.9 712.4l10.25 19.5h-20.5zM831.3 712.0l10.25 19.5h-20.5zM832.8 711.6l10.25 19.5h-20.5zM834.2 711.1l10.25 19.5h-20.5zM835.6 710.6l10.25 19.5h-20.5zM837.1 710.1l10.25 19.5h-20.5zM838.5 709.5l10.25 19.5h-20.5zM839.8 708.9l10.25 19.5h-20.5zM841.2 708.3l10.25 19.5h-20.5zM842.5 707.7l10.25 19.5h-20.5zM843.9 707.1l10.25 19.5h-20.5zM845.2 706.4l10.25 19.5h-20.5zM846.6 705.8l10.25 19.5h-20.5zM847.9 705.1l10.25 19.5h-20.5zM849.3 704.4l10.25 19.5h-20.5zM850.7 703.7l10.25 19.5h-20.5zM852.1 703.1l10.25 19.5h-20.5zM853.5 702.4l10.25 19.5h-20.5zM854.9 701.7l10.25 19.5h-20.5zM856.3 701.1l10.25 19.5h-20.5zM857.7 700.4l10.25 19.5h-20.5zM859.1 699.8l10.25 19.5h-20.5zM860.5 699.2l10.25 19.5h-20.5zM861.8 698.6l10.25 19.5h-20.5zM863.2 698.0l10.25 19.5h-20.5zM864.6 697.4l10.25 19.5h-20.5zM865.9 696.7l10.25 19.5h-20.5zM867.3 696.1l10.25 19.5h-20.5zM868.7 695.5l10.25 19.5h-20.5zM870.0 694.8l10.25 19.5h-20.5zM871.3 694.2l10.25 19.5h-20.5zM872.7 693.5l10.25 19.5h-20.5zM874.0 692.8l10.25 19.5h-20.5zM875.3 692.1l10.25 19.5h-20.5zM876.6 691.4l10.25 19.5h-20.5zM878.0 690.6l10.25 19.5h-20.5zM879.3 689.9l10.25 19.5h-20.5zM880.5 689.1l10.25 19.5h-20.5zM881.8 688.4l10.25 19.5h-20.5zM883.0 687.7l10.25 19.5h-20.5zM884.3 686.9l10.25 19.5h-20.5zM885.6 686.1l10.25 19.5h-20.5zM886.8 685.4l10.25 19.5h-20.5zM888.1 684.6l10.25 19.5h-20.5zM889.3 683.7l10.25 19.5h-20.5zM890.5 682.9l10.25 19.5h-20.5zM891.8 682.1l10.25 19.5h-20.5zM893.0 681.2l10.25 19.5h-20.5zM894.2 680.3l10.25 19.5h-20.5zM895.4 679.4l10.25 19.5h-20.5zM896.6 678.5l10.25 19.5h-20.5zM897.7 677.6l10.25 19.5h-20.5zM898.9 676.7l10.25 19.5h-20.5zM899.9 675.7l10.25 19.5h-20.5zM901.0 674.8l10.25 19.5h-20.5zM902.0 673.8l10.25 19.5h-20.5zM903.1 672.8l10.25 19.5h-20.5zM904.1 671.9l10.25 19.5h-20.5zM905.2 670.8l10.25 19.5h-20.5zM906.2 669.8l10.25 19.5h-20.5zM907.3 668.8l10.25 19.5h-20.5zM908.4 667.8l10.25 19.5h-20.5zM909.5 666.7l10.25 19.5h-20.5zM910.7 665.7l10.25 19.5h-20.5zM911.8 664.6l10.25 19.5h-20.5zM913.0 663.6l10.25 19.5h-20.5zM914.2 662.5l10.25 19.5h-20.5zM915.4 661.4l10.25 19.5h-20.5zM916.6 660.4l10.25 19.5h-20.5zM917.7 659.5l10.25 19.5h-20.5zM918.8 658.5l10.25 19.5h-20.5zM920.0 657.5l10.25 19.5h-20.5zM921.1 656.6l10.25 19.5h-20.5zM922.2 655.6l10.25 19.5h-20.5zM923.4 654.6l10.25 19.5h-20.5zM924.5 653.6l10.25 19.5h-20.5zM925.7 652.7l10.25 19.5h-20.5zM926.9 651.7l10.25 19.5h-20.5zM928.0 650.7l10.25 19.5h-20.5zM929.2 649.7l10.25 19.5h-20.5zM930.4 648.6l10.25 19.5h-20.5zM931.6 647.6l10.25 19.5h-20.5zM932.7 646.6l10.25 19.5h-20.5zM933.9 645.6l10.25 19.5h-20.5zM935.1 644.6l10.25 19.5h-20.5zM936.2 643.6l10.25 19.5h-20.5zM937.4 642.6l10.25 19.5h-20.5zM938.5 641.6l10.25 19.5h-20.5zM939.7 640.6l10.25 19.5h-20.5zM940.8 639.6l10.25 19.5h-20.5zM942.0 638.5l10.25 19.5h-20.5zM943.2 637.5l10.25 19.5h-20.5zM944.4 636.5l10.25 19.5h-20.5zM945.6 635.5l10.25 19.5h-20.5zM946.7 634.4l10.25 19.5h-20.5zM947.9 633.4l10.25 19.5h-20.5zM949.1 632.4l10.25 19.5h-20.5zM950.2 631.4l10.25 19.5h-20.5zM951.4 630.3l10.25 19.5h-20.5zM952.5 629.3l10.25 19.5h-20.5zM953.6 628.3l10.25 19.5h-20.5zM954.7 627.3l10.25 19.5h-20.5zM955.8 626.3l10.25 19.5h-20.5zM956.9 625.3l10.25 19.5h-20.5zM957.9 624.3l10.25 19.5h-20.5zM958.9 623.3l10.25 19.5h-20.5zM959.9 622.3l10.25 19.5h-20.5zM961.1 621.1l10.25 19.5h-20.5zM962.2 620.0l10.25 19.5h-20.5zM963.3 618.8l10.25 19.5h-20.5zM964.4 617.6l10.25 19.5h-20.5zM965.5 616.5l10.25 19.5h-20.5zM966.5 615.3l10.25 19.5h-20.5zM967.6 614.2l10.25 19.5h-20.5zM968.6 613.1l10.25 19.5h-20.5zM969.6 612.0l10.25 19.5h-20.5zM970.6 610.9l10.25 19.5h-20.5zM971.6 609.8l10.25 19.5h-20.5zM972.6 608.8l10.25 19.5h-20.5zM973.7 607.7l10.25 19.5h-20.5zM974.7 606.7l10.25 19.5h-20.5zM975.7 605.7l10.25 19.5h-20.5zM976.8 604.6l10.25 19.5h-20.5zM977.9 603.5l10.25 19.5h-20.5zM979.0 602.4l10.25 19.5h-20.5zM980.1 601.3l10.25 19.5h-20.5zM981.2 600.3l10.25 19.5h-20.5zM982.2 599.3l10.25 19.5h-20.5zM983.2 598.3l10.25 19.5h-20.5zM984.3 597.3l10.25 19.5h-20.5zM985.3 596.3l10.25 19.5h-20.5zM986.4 595.3l10.25 19.5h-20.5zM987.5 594.3l10.25 19.5h-20.5zM988.6 593.2l10.25 19.5h-20.5zM989.8 592.1l10.25 19.5h-20.5zM990.8 591.1l10.25 19.5h-20.5zM991.9 590.1l10.25 19.5h-20.5zM992.9 589.1l10.25 19.5h-20.5zM994.0 588.1l10.25 19.5h-20.5zM995.1 587.1l10.25 19.5h-20.5zM996.2 586.0l10.25 19.5h-20.5zM997.4 585.0l10.25 19.5h-20.5zM998.5 583.9l10.25 19.5h-20.5zM999.7 582.9l10.25 19.5h-20.5zM1000.9 581.8l10.25 19.5h-20.5zM1002.1 580.8l10.25 19.5h-20.5zM1003.2 579.8l10.25 19.5h-20.5zM1004.4 578.7l10.25 19.5h-20.5zM1005.6 577.7l10.25 19.5h-20.5zM1006.8 576.7l10.25 19.5h-20.5zM1008.0 575.7l10.25 19.5h-20.5zM1009.1 574.8l10.25 19.5h-20.5zM1010.3 573.8l10.25 19.5h-20.5zM1011.5 572.9l10.25 19.5h-20.5zM1012.7 571.9l10.25 19.5h-20.5zM1013.8 571.0l10.25 19.5h-20.5zM1015.0 570.0l10.25 19.5h-20.5zM1016.2 569.1l10.25 19.5h-20.5zM1017.4 568.2l10.25 19.5h-20.5zM1018.6 567.2l10.25 19.5h-20.5zM1019.8 566.3l10.25 19.5h-20.5zM1021.1 565.4l10.25 19.5h-20.5zM1022.3 564.5l10.25 19.5h-20.5zM1023.5 563.6l10.25 19.5h-20.5zM1024.8 562.7l10.25 19.5h-20.5zM1026.0 561.8l10.25 19.5h-20.5zM1027.3 561.0l10.25 19.5h-20.5zM1028.5 560.1l10.25 19.5h-20.5zM1029.7 559.3l10.25 19.5h-20.5zM1031.0 558.5l10.25 19.5h-20.5zM1032.2 557.7l10.25 19.5h-20.5zM1033.4 556.9l10.25 19.5h-20.5zM1034.7 556.0l10.25 19.5h-20.5zM1035.9 555.2l10.25 19.5h-20.5zM1037.2 554.4l10.25 19.5h-20.5zM1038.5 553.6l10.25 19.5h-20.5zM1039.8 552.8l10.25 19.5h-20.5zM1041.1 551.9l10.25 19.5h-20.5zM1042.4 551.1l10.25 19.5h-20.5zM1043.7 550.2l10.25 19.5h-20.5zM1045.1 549.3l10.25 19.5h-20.5zM1046.2 548.5l10.25 19.5h-20.5zM1047.4 547.8l10.25 19.5h-20.5zM1048.6 547.0l10.25 19.5h-20.5zM1049.7 546.2l10.25 19.5h-20.5zM1050.9 545.4l10.25 19.5h-20.5zM1052.1 544.6l10.25 19.5h-20.5zM1053.4 543.8l10.25 19.5h-20.5zM1054.6 543.0l10.25 19.5h-20.5zM1055.9 542.2l10.25 19.5h-20.5zM1057.1 541.4l10.25 19.5h-20.5zM1058.4 540.6l10.25 19.5h-20.5zM1059.8 539.8l10.25 19.5h-20.5zM1061.1 539.0l10.25 19.5h-20.5zM1062.5 538.2l10.25 19.5h-20.5zM1063.9 537.4l10.25 19.5h-20.5zM1065.3 536.6l10.25 19.5h-20.5zM1066.7 535.8l10.25 19.5h-20.5zM1068.2 535.0l10.25 19.5h-20.5zM1069.5 534.3l10.25 19.5h-20.5zM1070.8 533.7l10.25 19.5h-20.5zM1072.2 533.0l10.25 19.5h-20.5zM1073.5 532.3l10.25 19.5h-20.5zM1074.9 531.6l10.25 19.5h-20.5zM1076.4 530.9l10.25 19.5h-20.5zM1077.8 530.2l10.25 19.5h-20.5zM1079.3 529.5l10.25 19.5h-20.5zM1080.7 528.8l10.25 19.5h-20.5zM1082.2 528.1l10.25 19.5h-20.5zM1083.7 527.4l10.25 19.5h-20.5zM1085.2 526.7l10.25 19.5h-20.5zM1086.6 526.0l10.25 19.5h-20.5zM1088.1 525.3l10.25 19.5h-20.5zM1089.5 524.7l10.25 19.5h-20.5zM1091.0 524.0l10.25 19.5h-20.5zM1092.4 523.4l10.25 19.5h-20.5zM1093.7 522.8l10.25 19.5h-20.5zM1095.1 522.2l10.25 19.5h-20.5zM1096.4 521.7l10.25 19.5h-20.5zM1097.6 521.2l10.25 19.5h-20.5zM1098.9 520.7l10.25 19.5h-20.5zM1100.5 520.1l10.25 19.5h-20.5zM1101.6 519.7l10.25 19.5h-20.5zM1103.3 519.1l10.25 19.5h-20.5zM1104.9 518.6l10.25 19.5h-20.5zM1106.4 518.2l10.25 19.5h-20.5zM1107.9 517.8l10.25 19.5h-20.5zM1109.3 517.4l10.25 19.5h-20.5zM1110.6 517.0l10.25 19.5h-20.5zM1112.0 516.6l10.25 19.5h-20.5zM1113.3 516.3l10.25 19.5h-20.5zM1114.6 515.9l10.25 19.5h-20.5zM1115.9 515.5l10.25 19.5h-20.5zM1117.2 515.0l10.25 19.5h-20.5zM1118.6 514.6l10.25 19.5h-20.5zM1120.0 514.1l10.25 19.5h-20.5zM1121.4 513.6l10.25 19.5h-20.5zM1122.8 513.0l10.25 19.5h-20.5zM1124.2 512.5l10.25 19.5h-20.5zM1125.6 512.0l10.25 19.5h-20.5zM1127.1 511.5l10.25 19.5h-20.5zM1128.5 511.0l10.25 19.5h-20.5zM1129.9 510.5l10.25 19.5h-20.5zM1131.4 510.1l10.25 19.5h-20.5zM1132.8 509.6l10.25 19.5h-20.5zM1134.3 509.2l10.25 19.5h-20.5zM1135.7 508.7l10.25 19.5h-20.5zM1137.2 508.3l10.25 19.5h-20.5zM1138.6 507.9l10.25 19.5h-20.5zM1140.1 507.6l10.25 19.5h-20.5zM1141.6 507.2l10.25 19.5h-20.5zM1143.1 506.9l10.25 19.5h-20.5zM1144.6 506.5l10.25 19.5h-20.5zM1146.1 506.2l10.25 19.5h-20.5zM1147.5 505.9l10.25 19.5h-20.5zM1149.0 505.6l10.25 19.5h-20.5zM1150.5 505.3l10.25 19.5h-20.5zM1151.9 504.9l10.25 19.5h-20.5zM1153.4 504.6l10.25 19.5h-20.5zM1154.9 504.3l10.25 19.5h-20.5zM1156.3 503.9l10.25 19.5h-20.5zM1157.8 503.6l10.25 19.5h-20.5zM1159.2 503.2l10.25 19.5h-20.5zM1160.7 502.8l10.25 19.5h-20.5zM1162.2 502.5l10.25 19.5h-20.5zM1163.6 502.1l10.25 19.5h-20.5zM1165.1 501.7l10.25 19.5h-20.5zM1166.5 501.4l10.25 19.5h-20.5zM1168.0 501.0l10.25 19.5h-20.5zM1169.5 500.7l10.25 19.5h-20.5zM1170.9 500.3l10.25 19.5h-20.5zM1172.4 500.0l10.25 19.5h-20.5zM1173.9 499.6l10.25 19.5h-20.5zM1175.3 499.3l10.25 19.5h-20.5zM1176.8 499.0l10.25 19.5h-20.5zM1178.3 498.7l10.25 19.5h-20.5zM1179.8 498.4l10.25 19.5h-20.5zM1181.3 498.1l10.25 19.5h-20.5zM1182.8 497.8l10.25 19.5h-20.5zM1184.3 497.6l10.25 19.5h-20.5zM1185.8 497.3l10.25 19.5h-20.5zM1187.3 497.1l10.25 19.5h-20.5zM1188.8 496.8l10.25 19.5h-20.5zM1190.3 496.5l10.25 19.5h-20.5zM1191.8 496.3l10.25 19.5h-20.5zM1193.3 496.0l10.25 19.5h-20.5zM1194.8 495.8l10.25 19.5h-20.5zM1196.3 495.5l10.25 19.5h-20.5zM1197.8 495.2l10.25 19.5h-20.5zM1199.3 495.0l10.25 19.5h-20.5zM1200.8 494.7l10.25 19.5h-20.5zM1202.3 494.4l10.25 19.5h-20.5zM1203.8 494.1l10.25 19.5h-20.5zM1205.3 493.9l10.25 19.5h-20.5zM1206.8 493.6l10.25 19.5h-20.5zM1208.3 493.3l10.25 19.5h-20.5zM1209.8 493.1l10.25 19.5h-20.5zM1211.3 492.8l10.25 19.5h-20.5zM1212.9 492.6l10.25 19.5h-20.5zM1214.4 492.3l10.25 19.5h-20.5zM1215.9 492.1l10.25 19.5h-20.5zM1217.4 491.8l10.25 19.5h-20.5zM1218.9 491.6l10.25 19.5h-20.5zM1220.4 491.4l10.25 19.5h-20.5zM1221.8 491.2l10.25 19.5h-20.5zM1223.3 491.0l10.25 19.5h-20.5zM1224.7 490.8l10.25 19.5h-20.5zM1226.1 490.7l10.25 19.5h-20.5zM1227.4 490.5l10.25 19.5h-20.5zM1228.8 490.3l10.25 19.5h-20.5zM1230.2 490.1l10.25 19.5h-20.5zM1231.7 489.9l10.25 19.5h-20.5zM1233.2 489.7l10.25 19.5h-20.5zM1234.7 489.5l10.25 19.5h-20.5zM1236.4 489.3l10.25 19.5h-20.5zM1238.1 489.0l10.25 19.5h-20.5zM1239.3 488.8l10.25 19.5h-20.5zM1240.7 488.6l10.25 19.5h-20.5zM1242.1 488.3l10.25 19.5h-20.5zM1243.5 488.1l10.25 19.5h-20.5zM1244.9 487.9l10.25 19.5h-20.5zM1246.4 487.6l10.25 19.5h-20.5zM1247.9 487.4l10.25 19.5h-20.5zM1249.5 487.1l10.25 19.5h-20.5zM1251.1 486.9l10.25 19.5h-20.5zM1252.7 486.6l10.25 19.5h-20.5zM1254.3 486.3l10.25 19.5h-20.5zM1255.9 486.1l10.25 19.5h-20.5zM1257.6 485.8l10.25 19.5h-20.5zM1259.2 485.5l10.25 19.5h-20.5zM1260.8 485.3l10.25 19.5h-20.5zM1262.3 485.0l10.25 19.5h-20.5zM1263.8 484.7l10.25 19.5h-20.5zM1265.3 484.5l10.25 19.5h-20.5zM1266.8 484.2l10.25 19.5h-20.5zM1268.1 484.0l10.25 19.5h-20.5zM1269.4 483.8l10.25 19.5h-20.5zM1271.1 483.5l10.25 19.5h-20.5zM1272.8 483.2l10.25 19.5h-20.5zM1274.5 482.9l10.25 19.5h-20.5zM1276.1 482.6l10.25 19.5h-20.5zM1277.6 482.3l10.25 19.5h-20.5zM1279.0 482.0l10.25 19.5h-20.5zM1280.5 481.7l10.25 19.5h-20.5zM1281.8 481.5l10.25 19.5h-20.5zM1283.2 481.2l10.25 19.5h-20.5zM1284.6 480.9l10.25 19.5h-20.5zM1286.0 480.6l10.25 19.5h-20.5zM1287.4 480.4l10.25 19.5h-20.5zM1288.8 480.1l10.25 19.5h-20.5zM1290.3 479.8l10.25 19.5h-20.5zM1291.8 479.4l10.25 19.5h-20.5zM1293.3 479.1l10.25 19.5h-20.5zM1294.8 478.8l10.25 19.5h-20.5zM1296.3 478.5l10.25 19.5h-20.5zM1297.8 478.1l10.25 19.5h-20.5zM1299.3 477.8l10.25 19.5h-20.5zM1300.8 477.5l10.25 19.5h-20.5zM1302.3 477.1l10.25 19.5h-20.5zM1303.8 476.8l10.25 19.5h-20.5zM1305.3 476.5l10.25 19.5h-20.5zM1306.8 476.1l10.25 19.5h-20.5zM1308.3 475.8l10.25 19.5h-20.5zM1309.7 475.4l10.25 19.5h-20.5zM1311.2 475.1l10.25 19.5h-20.5zM1312.7 474.8l10.25 19.5h-20.5zM1314.1 474.4l10.25 19.5h-20.5zM1315.6 474.0l10.25 19.5h-20.5zM1317.0 473.7l10.25 19.5h-20.5zM1318.5 473.3l10.25 19.5h-20.5zM1320.0 473.0l10.25 19.5h-20.5zM1321.4 472.6l10.25 19.5h-20.5zM1322.9 472.3l10.25 19.5h-20.5zM1324.4 471.9l10.25 19.5h-20.5zM1325.8 471.6l10.25 19.5h-20.5zM1327.3 471.3l10.25 19.5h-20.5zM1328.8 471.0l10.25 19.5h-20.5zM1330.3 470.6l10.25 19.5h-20.5zM1331.8 470.3l10.25 19.5h-20.5zM1333.3 470.0l10.25 19.5h-20.5zM1334.8 469.7l10.25 19.5h-20.5zM1336.3 469.4l10.25 19.5h-20.5zM1337.8 469.1l10.25 19.5h-20.5zM1339.3 468.8l10.25 19.5h-20.5zM1340.8 468.5l10.25 19.5h-20.5zM1342.3 468.2l10.25 19.5h-20.5zM1343.8 467.8l10.25 19.5h-20.5zM1345.3 467.5l10.25 19.5h-20.5zM1346.8 467.1l10.25 19.5h-20.5zM1348.3 466.8l10.25 19.5h-20.5zM1349.7 466.4l10.25 19.5h-20.5zM1351.2 466.1l10.25 19.5h-20.5zM1352.7 465.7l10.25 19.5h-20.5zM1354.1 465.4l10.25 19.5h-20.5zM1355.6 465.1l10.25 19.5h-20.5zM1357.0 464.7l10.25 19.5h-20.5zM1358.5 464.3l10.25 19.5h-20.5zM1360.0 464.0l10.25 19.5h-20.5zM1361.4 463.6l10.25 19.5h-20.5zM1362.9 463.2l10.25 19.5h-20.5zM1364.3 462.8l10.25 19.5h-20.5zM1365.7 462.4l10.25 19.5h-20.5zM1367.2 461.9l10.25 19.5h-20.5zM1368.6 461.5l10.25 19.5h-20.5zM1370.0 461.0l10.25 19.5h-20.5zM1371.4 460.5l10.25 19.5h-20.5zM1372.8 460.0l10.25 19.5h-20.5zM1374.2 459.5l10.25 19.5h-20.5zM1375.6 459.0l10.25 19.5h-20.5zM1377.1 458.4l10.25 19.5h-20.5zM1378.5 457.9l10.25 19.5h-20.5zM1379.9 457.4l10.25 19.5h-20.5zM1381.3 456.9l10.25 19.5h-20.5zM1382.8 456.4l10.25 19.5h-20.5zM1384.2 455.9l10.25 19.5h-20.5zM1385.7 455.4l10.25 19.5h-20.5zM1387.1 455.0l10.25 19.5h-20.5zM1388.6 454.6l10.25 19.5h-20.5zM1390.0 454.2l10.25 19.5h-20.5zM1391.5 453.7l10.25 19.5h-20.5zM1393.0 453.3l10.25 19.5h-20.5zM1394.5 453.0l10.25 19.5h-20.5zM1396.0 452.6l10.25 19.5h-20.5zM1397.4 452.2l10.25 19.5h-20.5zM1398.9 451.8l10.25 19.5h-20.5zM1400.4 451.4l10.25 19.5h-20.5zM1401.9 451.0l10.25 19.5h-20.5zM1403.3 450.6l10.25 19.5h-20.5zM1404.8 450.3l10.25 19.5h-20.5zM1406.3 449.9l10.25 19.5h-20.5zM1407.7 449.5l10.25 19.5h-20.5zM1409.2 449.1l10.25 19.5h-20.5zM1410.7 448.8l10.25 19.5h-20.5zM1412.1 448.4l10.25 19.5h-20.5zM1413.6 448.0l10.25 19.5h-20.5zM1415.1 447.7l10.25 19.5h-20.5zM1416.5 447.4l10.25 19.5h-20.5zM1418.0 447.0l10.25 19.5h-20.5zM1419.5 446.7l10.25 19.5h-20.5zM1420.9 446.3l10.25 19.5h-20.5zM1422.4 445.9l10.25 19.5h-20.5zM1423.8 445.6l10.25 19.5h-20.5zM1425.3 445.2l10.25 19.5h-20.5zM1426.8 444.8l10.25 19.5h-20.5zM1428.2 444.4l10.25 19.5h-20.5zM1429.7 444.0l10.25 19.5h-20.5zM1431.1 443.6l10.25 19.5h-20.5zM1432.6 443.2l10.25 19.5h-20.5zM1434.0 442.8l10.25 19.5h-20.5zM1435.5 442.4l10.25 19.5h-20.5zM1437.0 442.0l10.25 19.5h-20.5zM1438.4 441.6l10.25 19.5h-20.5zM1439.9 441.1l10.25 19.5h-20.5zM1441.3 440.7l10.25 19.5h-20.5zM1442.8 440.2l10.25 19.5h-20.5zM1444.2 439.8l10.25 19.5h-20.5zM1445.6 439.3l10.25 19.5h-20.5zM1447.1 438.8l10.25 19.5h-20.5zM1448.5 438.2l10.25 19.5h-20.5zM1449.9 437.7l10.25 19.5h-20.5zM1451.3 437.1l10.25 19.5h-20.5zM1452.6 436.6l10.25 19.5h-20.5zM1454.0 436.0l10.25 19.5h-20.5zM1455.3 435.4l10.25 19.5h-20.5zM1456.7 434.8l10.25 19.5h-20.5zM1458.1 434.2l10.25 19.5h-20.5zM1459.5 433.6l10.25 19.5h-20.5zM1460.8 433.0l10.25 19.5h-20.5zM1462.2 432.4l10.25 19.5h-20.5zM1463.6 431.8l10.25 19.5h-20.5zM1465.0 431.2l10.25 19.5h-20.5zM1466.4 430.6l10.25 19.5h-20.5zM1467.8 430.0l10.25 19.5h-20.5zM1469.2 429.4l10.25 19.5h-20.5zM1470.6 428.8l10.25 19.5h-20.5zM1472.0 428.2l10.25 19.5h-20.5zM1473.4 427.7l10.25 19.5h-20.5zM1474.8 427.1l10.25 19.5h-20.5zM1476.2 426.5l10.25 19.5h-20.5zM1477.6 425.9l10.25 19.5h-20.5zM1479.0 425.3l10.25 19.5h-20.5zM1480.3 424.6l10.25 19.5h-20.5zM1481.7 424.0l10.25 19.5h-20.5zM1483.1 423.3l10.25 19.5h-20.5zM1484.4 422.7l10.25 19.5h-20.5zM1485.8 422.0l10.25 19.5h-20.5zM1487.1 421.3l10.25 19.5h-20.5zM1488.5 420.5l10.25 19.5h-20.5zM1489.7 419.8l10.25 19.5h-20.5zM1491.0 419.1l10.25 19.5h-20.5zM1492.1 418.4l10.25 19.5h-20.5zM1493.3 417.6l10.25 19.5h-20.5zM1494.5 416.9l10.25 19.5h-20.5zM1495.6 416.2l10.25 19.5h-20.5zM1496.8 415.4l10.25 19.5h-20.5zM1498.0 414.7l10.25 19.5h-20.5zM1499.2 413.9l10.25 19.5h-20.5zM1500.5 413.1l10.25 19.5h-20.5zM1501.8 412.3l10.25 19.5h-20.5zM1503.1 411.5l10.25 19.5h-20.5zM1504.5 410.6l10.25 19.5h-20.5zM1506.0 409.7l10.25 19.5h-20.5zM1507.6 408.8l10.25 19.5h-20.5zM1508.6 408.2l10.25 19.5h-20.5zM1509.8 407.5l10.25 19.5h-20.5zM1510.9 406.8l10.25 19.5h-20.5zM1512.1 406.1l10.25 19.5h-20.5zM1513.4 405.4l10.25 19.5h-20.5zM1514.7 404.6l10.25 19.5h-20.5zM1516.0 403.8l10.25 19.5h-20.5zM1517.4 403.0l10.25 19.5h-20.5zM1518.7 402.2l10.25 19.5h-20.5zM1520.1 401.3l10.25 19.5h-20.5zM1521.5 400.5l10.25 19.5h-20.5zM1522.9 399.7l10.25 19.5h-20.5zM1524.4 398.8l10.25 19.5h-20.5zM1525.8 398.0l10.25 19.5h-20.5zM1527.2 397.1l10.25 19.5h-20.5zM1528.6 396.3l10.25 19.5h-20.5zM1529.9 395.5l10.25 19.5h-20.5zM1531.3 394.6l10.25 19.5h-20.5zM1532.6 393.8l10.25 19.5h-20.5zM1533.9 393.1l10.25 19.5h-20.5zM1535.1 392.3l10.25 19.5h-20.5zM1536.3 391.6l10.25 19.5h-20.5zM1537.5 390.9l10.25 19.5h-20.5zM1538.6 390.2l10.25 19.5h-20.5zM1539.6 389.5l10.25 19.5h-20.5zM1541.1 388.6l10.25 19.5h-20.5zM1542.6 387.7l10.25 19.5h-20.5zM1544.0 386.9l10.25 19.5h-20.5zM1545.3 386.0l10.25 19.5h-20.5zM1546.5 385.2l10.25 19.5h-20.5zM1547.8 384.5l10.25 19.5h-20.5zM1549.0 383.7l10.25 19.5h-20.5zM1550.2 382.9l10.25 19.5h-20.5zM1551.3 382.2l10.25 19.5h-20.5zM1552.5 381.4l10.25 19.5h-20.5zM1553.6 380.7l10.25 19.5h-20.5zM1554.8 379.9l10.25 19.5h-20.5zM1556.0 379.1l10.25 19.5h-20.5zM1557.2 378.3l10.25 19.5h-20.5zM1558.5 377.5l10.25 19.5h-20.5zM1559.7 376.7l10.25 19.5h-20.5zM1560.9 375.8l10.25 19.5h-20.5zM1562.2 375.0l10.25 19.5h-20.5zM1563.4 374.2l10.25 19.5h-20.5zM1564.7 373.3l10.25 19.5h-20.5zM1565.9 372.5l10.25 19.5h-20.5zM1567.1 371.6l10.25 19.5h-20.5zM1568.4 370.8l10.25 19.5h-20.5zM1569.6 369.9l10.25 19.5h-20.5zM1570.9 369.0l10.25 19.5h-20.5zM1572.1 368.2l10.25 19.5h-20.5zM1573.3 367.3l10.25 19.5h-20.5zM1574.6 366.5l10.25 19.5h-20.5zM1575.8 365.6l10.25 19.5h-20.5zM1577.1 364.7l10.25 19.5h-20.5zM1578.3 363.8l10.25 19.5h-20.5zM1579.5 363.0l10.25 19.5h-20.5zM1580.7 362.1l10.25 19.5h-20.5zM1582.0 361.2l10.25 19.5h-20.5zM1583.2 360.4l10.25 19.5h-20.5zM1584.4 359.5l10.25 19.5h-20.5zM1585.6 358.6l10.25 19.5h-20.5zM1586.8 357.7l10.25 19.5h-20.5zM1588.0 356.8l10.25 19.5h-20.5zM1589.3 356.0l10.25 19.5h-20.5zM1590.5 355.1l10.25 19.5h-20.5zM1591.7 354.2l10.25 19.5h-20.5zM1593.0 353.3l10.25 19.5h-20.5zM1594.2 352.5l10.25 19.5h-20.5zM1595.5 351.6l10.25 19.5h-20.5zM1596.7 350.8l10.25 19.5h-20.5zM1598.0 349.9l10.25 19.5h-20.5zM1599.3 349.1l10.25 19.5h-20.5zM1600.6 348.3l10.25 19.5h-20.5zM1601.9 347.4l10.25 19.5h-20.5zM1603.2 346.6l10.25 19.5h-20.5zM1604.5 345.8l10.25 19.5h-20.5zM1605.8 345.0l10.25 19.5h-20.5zM1607.0 344.2l10.25 19.5h-20.5zM1608.3 343.4l10.25 19.5h-20.5zM1609.6 342.6l10.25 19.5h-20.5zM1610.8 341.8l10.25 19.5h-20.5zM1612.1 340.9l10.25 19.5h-20.5zM1613.3 340.1l10.25 19.5h-20.5zM1614.6 339.2l10.25 19.5h-20.5zM1615.8 338.3l10.25 19.5h-20.5zM1617.0 337.4l10.25 19.5h-20.5zM1618.3 336.5l10.25 19.5h-20.5zM1619.4 335.6l10.25 19.5h-20.5zM1620.6 334.7l10.25 19.5h-20.5zM1621.8 333.8l10.25 19.5h-20.5zM1623.0 332.8l10.25 19.5h-20.5zM1624.3 331.9l10.25 19.5h-20.5zM1625.5 330.9l10.25 19.5h-20.5zM1626.7 329.9l10.25 19.5h-20.5zM1627.9 328.9l10.25 19.5h-20.5zM1629.1 327.9l10.25 19.5h-20.5zM1630.4 327.0l10.25 19.5h-20.5zM1631.6 326.0l10.25 19.5h-20.5zM1632.7 325.0l10.25 19.5h-20.5zM1633.9 324.1l10.25 19.5h-20.5zM1635.0 323.1l10.25 19.5h-20.5zM1636.1 322.2l10.25 19.5h-20.5zM1637.2 321.3l10.25 19.5h-20.5zM1638.4 320.4l10.25 19.5h-20.5zM1639.7 319.3l10.25 19.5h-20.5zM1640.9 318.3l10.25 19.5h-20.5zM1642.1 317.2l10.25 19.5h-20.5zM1643.2 316.3l10.25 19.5h-20.5zM1644.3 315.3l10.25 19.5h-20.5zM1645.4 314.3l10.25 19.5h-20.5zM1646.5 313.4l10.25 19.5h-20.5zM1647.5 312.4l10.25 19.5h-20.5zM1648.6 311.4l10.25 19.5h-20.5zM1649.7 310.5l10.25 19.5h-20.5zM1650.8 309.4l10.25 19.5h-20.5zM1651.9 308.4l10.25 19.5h-20.5zM1653.0 307.4l10.25 19.5h-20.5zM1654.1 306.3l10.25 19.5h-20.5zM1655.2 305.2l10.25 19.5h-20.5zM1656.4 304.0l10.25 19.5h-20.5zM1657.7 302.8l10.25 19.5h-20.5zM1658.9 301.6l10.25 19.5h-20.5zM1660.2 300.4l10.25 19.5h-20.5zM1661.4 299.2l10.25 19.5h-20.5zM1662.6 298.0l10.25 19.5h-20.5zM1663.7 296.9l10.25 19.5h-20.5zM1664.8 295.8l10.25 19.5h-20.5zM1665.7 294.9l10.25 19.5h-20.5zM1666.6 294.0l10.25 19.5h-20.5zM1667.6 293.1l10.25 19.5h-20.5zM1668.0 292.7l10.25 19.5h-20.5zM945.4 871.3l12.0 18h-24zM945.8 872.7l12.0 18h-24zM946.1 874.2l12.0 18h-24zM946.5 875.5l12.0 18h-24zM946.7 876.8l12.0 18h-24zM946.9 878.0l12.0 18h-24zM947.0 879.3l12.0 18h-24zM947.0 880.6l12.0 18h-24zM947.1 882.0l12.0 18h-24zM947.2 883.6l12.0 18h-24zM947.3 885.4l12.0 18h-24zM947.3 886.7l12.0 18h-24zM947.4 888.1l12.0 18h-24zM947.4 889.7l12.0 18h-24zM947.5 891.2l12.0 18h-24zM947.6 892.8l12.0 18h-24zM947.6 894.0l12.0 18h-24zM947.7 895.3l12.0 18h-24zM947.7 896.6l12.0 18h-24zM947.8 898.0l12.0 18h-24zM947.9 899.4l12.0 18h-24zM947.9 900.8l12.0 18h-24zM948.0 902.3l12.0 18h-24zM948.1 903.8l12.0 18h-24zM948.1 905.3l12.0 18h-24zM948.2 906.9l12.0 18h-24zM948.3 908.4l12.0 18h-24zM948.3 910.0l12.0 18h-24zM948.4 911.6l12.0 18h-24zM948.5 913.3l12.0 18h-24zM948.5 914.9l12.0 18h-24zM948.6 916.6l12.0 18h-24zM948.7 918.3l12.0 18h-24zM948.7 919.9l12.0 18h-24zM948.8 921.6l12.0 18h-24zM948.8 923.3l12.0 18h-24zM948.9 925.0l12.0 18h-24zM949.0 926.7l12.0 18h-24zM949.0 928.4l12.0 18h-24zM949.1 929.9l12.0 18h-24zM949.1 931.3l12.0 18h-24zM949.2 932.7l12.0 18h-24zM949.2 934.1l12.0 18h-24zM949.2 935.5l12.0 18h-24zM949.3 936.9l12.0 18h-24zM949.3 938.4l12.0 18h-24zM949.3 939.8l12.0 18h-24zM949.4 941.3l12.0 18h-24zM949.4 942.8l12.0 18h-24zM949.4 944.3l12.0 18h-24zM949.5 945.8l12.0 18h-24zM949.5 947.3l12.0 18h-24zM949.5 948.8l12.0 18h-24zM949.6 950.3l12.0 18h-24zM949.6 951.9l12.0 18h-24zM949.7 953.4l12.0 18h-24zM949.7 954.9l12.0 18h-24zM949.7 956.5l12.0 18h-24zM949.8 958.0l12.0 18h-24zM949.8 959.6l12.0 18h-24zM949.8 961.1l12.0 18h-24zM949.9 962.7l12.0 18h-24zM949.9 964.2l12.0 18h-24zM949.9 965.8l12.0 18h-24zM950.0 967.3l12.0 18h-24zM950.0 968.9l12.0 18h-24zM950.0 970.4l12.0 18h-24zM950.1 971.9l12.0 18h-24zM950.1 973.5l12.0 18h-24zM950.1 975.0l12.0 18h-24zM950.2 976.5l12.0 18h-24zM950.2 978.0l12.0 18h-24zM950.2 979.5l12.0 18h-24zM950.3 981.0l12.0 18h-24zM950.3 982.5l12.0 18h-24zM950.3 984.0l12.0 18h-24zM950.3 985.5l12.0 18h-24zM950.4 987.0l12.0 18h-24zM950.4 988.5l12.0 18h-24zM950.4 990.0l12.0 18h-24zM950.4 991.5l12.0 18h-24zM950.5 993.0l12.0 18h-24zM950.5 994.5l12.0 18h-24zM950.5 996.0l12.0 18h-24zM950.5 997.5l12.0 18h-24zM950.5 999.0l12.0 18h-24zM950.6 1000.5l12.0 18h-24zM950.6 1002.0l12.0 18h-24zM950.6 1003.5l12.0 18h-24zM950.7 1005.0l12.0 18h-24zM950.7 1006.5l12.0 18h-24zM950.7 1008.0l12.0 18h-24zM950.8 1009.5l12.0 18h-24zM950.8 1011.0l12.0 18h-24zM950.8 1012.5l12.0 18h-24zM950.9 1014.0l12.0 18h-24zM950.9 1015.5l12.0 18h-24zM950.9 1017.0l12.0 18h-24zM951.0 1018.5l12.0 18h-24zM951.0 1020.0l12.0 18h-24zM951.1 1021.5l12.0 18h-24zM951.1 1023.0l12.0 18h-24zM951.2 1024.5l12.0 18h-24zM951.2 1026.0l12.0 18h-24zM951.3 1027.5l12.0 18h-24zM951.4 1029.0l12.0 18h-24zM951.4 1030.5l12.0 18h-24zM951.5 1032.0l12.0 18h-24zM951.6 1033.5l12.0 18h-24zM951.7 1035.0l12.0 18h-24zM951.8 1036.5l12.0 18h-24zM951.8 1038.0l12.0 18h-24zM951.9 1039.5l12.0 18h-24zM952.0 1041.0l12.0 18h-24zM952.1 1042.5l12.0 18h-24zM952.2 1044.0l12.0 18h-24zM952.2 1045.5l12.0 18h-24zM952.3 1047.0l12.0 18h-24zM952.4 1048.5l12.0 18h-24zM952.5 1049.9l12.0 18h-24zM952.5 1051.4l12.0 18h-24zM952.6 1052.9l12.0 18h-24zM952.7 1054.4l12.0 18h-24zM952.7 1055.9l12.0 18h-24zM952.8 1057.4l12.0 18h-24zM952.9 1058.9l12.0 18h-24zM952.9 1060.4l12.0 18h-24zM953.0 1061.9l12.0 18h-24zM953.0 1063.5l12.0 18h-24zM953.0 1065.0l12.0 18h-24zM953.1 1066.5l12.0 18h-24zM953.1 1068.0l12.0 18h-24zM953.1 1069.5l12.0 18h-24zM953.1 1071.0l12.0 18h-24zM953.1 1072.5l12.0 18h-24zM953.1 1074.0l12.0 18h-24zM953.1 1075.5l12.0 18h-24zM953.1 1077.0l12.0 18h-24zM953.1 1078.5l12.0 18h-24zM953.1 1080.1l12.0 18h-24zM953.1 1081.7l12.0 18h-24zM953.0 1083.3l12.0 18h-24zM953.0 1084.9l12.0 18h-24zM953.0 1086.5l12.0 18h-24zM952.9 1088.2l12.0 18h-24zM952.9 1089.8l12.0 18h-24zM952.9 1091.5l12.0 18h-24zM952.8 1093.2l12.0 18h-24zM952.8 1094.8l12.0 18h-24zM952.7 1096.5l12.0 18h-24zM952.7 1098.2l12.0 18h-24zM952.7 1099.8l12.0 18h-24zM952.6 1101.5l12.0 18h-24zM952.6 1103.1l12.0 18h-24zM952.6 1104.7l12.0 18h-24zM952.5 1106.3l12.0 18h-24zM952.5 1107.9l12.0 18h-24zM952.5 1109.5l12.0 18h-24zM952.5 1111.0l12.0 18h-24zM952.4 1112.5l12.0 18h-24zM952.4 1114.0l12.0 18h-24zM952.4 1115.4l12.0 18h-24zM952.4 1116.8l12.0 18h-24zM952.4 1118.1l12.0 18h-24zM952.4 1119.4l12.0 18h-24zM952.4 1120.7l12.0 18h-24zM952.5 1121.9l12.0 18h-24zM952.5 1123.4l12.0 18h-24zM952.6 1124.8l12.0 18h-24zM952.7 1126.5l12.0 18h-24zM952.8 1128.3l12.0 18h-24zM953.0 1129.9l12.0 18h-24zM953.2 1131.3l12.0 18h-24zM953.5 1132.5l12.0 18h-24zM953.8 1133.9l12.0 18h-24zM954.2 1135.1l12.0 18h-24zM954.5 1136.5l12.0 18h-24zM954.9 1137.7l12.0 18h-24zM955.1 1139.1l12.0 18h-24zM955.2 1140.4l12.0 18h-24zM955.3 1141.9l12.0 18h-24zM955.3 1143.6l12.0 18h-24zM955.5 1145.2l12.0 18h-24zM955.6 1146.9l12.0 18h-24zM955.8 1148.5l12.0 18h-24zM956.1 1150.0l12.0 18h-24zM995.0 1164.2l10.25 19.5h-20.5z" fill="#f00"/>
<g stroke="#1a1a1a" stroke-width="3.8" fill="none">
<rect x="237.8" y="39.5" width="1519.2" height="1218.5"/>
<line x1="237.8" y1="126.5" x2="249.8" y2="126.5"/>
<line x1="237.8" y1="213.6" x2="260.8" y2="213.6"/>
<line x1="237.8" y1="300.6" x2="249.8" y2="300.6"/>
<line x1="237.8" y1="387.6" x2="260.8" y2="387.6"/>
<line x1="237.8" y1="474.7" x2="249.8" y2="474.7"/>
<line x1="237.8" y1="561.7" x2="260.8" y2="561.7"/>
<line x1="237.8" y1="648.8" x2="249.8" y2="648.8"/>
<line x1="237.8" y1="737.2" x2="260.8" y2="737.2"/>
<line x1="237.8" y1="822.8" x2="249.8" y2="822.8"/>
<line x1="237.8" y1="909.9" x2="260.8" y2="909.9"/>
<line x1="237.8" y1="996.9" x2="249.8" y2="996.9"/>
<line x1="237.8" y1="1083.9" x2="260.8" y2="1083.9"/>
<line x1="237.8" y1="1171.0" x2="249.8" y2="1171.0"/>
<line x1="312.3" y1="1258.0" x2="312.3" y2="1245.0"/>
<line x1="356.2" y1="1258.0" x2="356.2" y2="1245.0"/>
<line x1="387.4" y1="1258.0" x2="387.4" y2="1245.0"/>
<line x1="411.6" y1="1258.0" x2="411.6" y2="1245.0"/>
<line x1="431.3" y1="1258.0" x2="431.3" y2="1245.0"/>
<line x1="448.0" y1="1258.0" x2="448.0" y2="1245.0"/>
<line x1="462.4" y1="1258.0" x2="462.4" y2="1245.0"/>
<line x1="475.2" y1="1258.0" x2="475.2" y2="1245.0"/>
<line x1="486.6" y1="1258.0" x2="486.6" y2="1234.0"/>
<line x1="561.6" y1="1258.0" x2="561.6" y2="1245.0"/>
<line x1="605.5" y1="1258.0" x2="605.5" y2="1245.0"/>
<line x1="636.7" y1="1258.0" x2="636.7" y2="1245.0"/>
<line x1="660.9" y1="1258.0" x2="660.9" y2="1245.0"/>
<line x1="680.6" y1="1258.0" x2="680.6" y2="1245.0"/>
<line x1="697.3" y1="1258.0" x2="697.3" y2="1245.0"/>
<line x1="711.7" y1="1258.0" x2="711.7" y2="1245.0"/>
<line x1="724.5" y1="1258.0" x2="724.5" y2="1245.0"/>
<line x1="735.9" y1="1258.0" x2="735.9" y2="1234.0"/>
<line x1="810.9" y1="1258.0" x2="810.9" y2="1245.0"/>
<line x1="854.8" y1="1258.0" x2="854.8" y2="1245.0"/>
<line x1="886.0" y1="1258.0" x2="886.0" y2="1245.0"/>
<line x1="910.2" y1="1258.0" x2="910.2" y2="1245.0"/>
<line x1="929.9" y1="1258.0" x2="929.9" y2="1245.0"/>
<line x1="946.6" y1="1258.0" x2="946.6" y2="1245.0"/>
<line x1="961.0" y1="1258.0" x2="961.0" y2="1245.0"/>
<line x1="973.8" y1="1258.0" x2="973.8" y2="1245.0"/>
<line x1="985.2" y1="1258.0" x2="985.2" y2="1234.0"/>
<line x1="1060.2" y1="1258.0" x2="1060.2" y2="1245.0"/>
<line x1="1104.1" y1="1258.0" x2="1104.1" y2="1245.0"/>
<line x1="1135.3" y1="1258.0" x2="1135.3" y2="1245.0"/>
<line x1="1159.5" y1="1258.0" x2="1159.5" y2="1245.0"/>
<line x1="1179.2" y1="1258.0" x2="1179.2" y2="1245.0"/>
<line x1="1195.9" y1="1258.0" x2="1195.9" y2="1245.0"/>
<line x1="1210.3" y1="1258.0" x2="1210.3" y2="1245.0"/>
<line x1="1223.1" y1="1258.0" x2="1223.1" y2="1245.0"/>
<line x1="1234.5" y1="1258.0" x2="1234.5" y2="1234.0"/>
<line x1="1309.5" y1="1258.0" x2="1309.5" y2="1245.0"/>
<line x1="1353.4" y1="1258.0" x2="1353.4" y2="1245.0"/>
<line x1="1384.6" y1="1258.0" x2="1384.6" y2="1245.0"/>
<line x1="1408.8" y1="1258.0" x2="1408.8" y2="1245.0"/>
<line x1="1428.5" y1="1258.0" x2="1428.5" y2="1245.0"/>
<line x1="1445.2" y1="1258.0" x2="1445.2" y2="1245.0"/>
<line x1="1459.6" y1="1258.0" x2="1459.6" y2="1245.0"/>
<line x1="1472.4" y1="1258.0" x2="1472.4" y2="1245.0"/>
<line x1="1483.8" y1="1258.0" x2="1483.8" y2="1234.0"/>
<line x1="1558.8" y1="1258.0" x2="1558.8" y2="1245.0"/>
<line x1="1602.7" y1="1258.0" x2="1602.7" y2="1245.0"/>
<line x1="1633.9" y1="1258.0" x2="1633.9" y2="1245.0"/>
<line x1="1658.1" y1="1258.0" x2="1658.1" y2="1245.0"/>
<line x1="1677.8" y1="1258.0" x2="1677.8" y2="1245.0"/>
<line x1="1694.5" y1="1258.0" x2="1694.5" y2="1245.0"/>
<line x1="1708.9" y1="1258.0" x2="1708.9" y2="1245.0"/>
<line x1="1721.7" y1="1258.0" x2="1721.7" y2="1245.0"/>
<line x1="1733.1" y1="1258.0" x2="1733.1" y2="1234.0"/>
<line x1="1733.1" y1="1258.0" x2="1733.1" y2="1234.0"/>
</g>
<g class="ser" fill="#111" font-size="72.5">
<text x="213" y="59.8" text-anchor="end">0.0</text>
<text x="213" y="233.9" text-anchor="end">-0.1</text>
<text x="213" y="407.9" text-anchor="end">-0.2</text>
<text x="213" y="582.0" text-anchor="end">-0.3</text>
<text x="213" y="756.1" text-anchor="end">-0.4</text>
<text x="213" y="930.2" text-anchor="end">-0.5</text>
<text x="213" y="1104.2" text-anchor="end">-0.6</text>
<text x="213" y="1278.3" text-anchor="end">-0.7</text>
<text x="180.5" y="1345">10</text>
<text font-size="50" transform="translate(252.0,1316.6) scale(0.87,1)"><tspan dy="3.5">-</tspan><tspan dy="-3.5">8</tspan></text>
<text x="429.8" y="1345">10</text>
<text font-size="50" transform="translate(501.3,1316.6) scale(0.87,1)"><tspan dy="3.5">-</tspan><tspan dy="-3.5">7</tspan></text>
<text x="679.1" y="1345">10</text>
<text font-size="50" transform="translate(750.6,1316.6) scale(0.87,1)"><tspan dy="3.5">-</tspan><tspan dy="-3.5">6</tspan></text>
<text x="928.4" y="1345">10</text>
<text font-size="50" transform="translate(999.9,1316.6) scale(0.87,1)"><tspan dy="3.5">-</tspan><tspan dy="-3.5">5</tspan></text>
<text x="1177.7" y="1345">10</text>
<text font-size="50" transform="translate(1249.2,1316.6) scale(0.87,1)"><tspan dy="3.5">-</tspan><tspan dy="-3.5">4</tspan></text>
<text x="1427.0" y="1345">10</text>
<text font-size="50" transform="translate(1498.5,1316.6) scale(0.87,1)"><tspan dy="3.5">-</tspan><tspan dy="-3.5">3</tspan></text>
<text x="1676.3" y="1345">10</text>
<text font-size="50" transform="translate(1747.8,1316.6) scale(0.87,1)"><tspan dy="3.5">-</tspan><tspan dy="-3.5">2</tspan></text>
</g>
<text class="ser" fill="#111" font-size="81" transform="translate(74,608) rotate(-90)" text-anchor="middle">Potential(V)</text>
<text class="ser" fill="#111" font-size="81.3" x="958.5" y="1434" text-anchor="middle">Current density (A/cm<tspan font-size="57" dy="-37">2</tspan><tspan dy="37">)</tspan></text>
<line x1="335" y1="135" x2="466" y2="135" stroke="#111" stroke-width="3.5"/>
<rect x="392.5" y="126.5" width="17" height="17" fill="#000"/>
<line x1="335" y1="206" x2="466" y2="206" stroke="#f00" stroke-width="4.5"/>
<path d="M401.0 194.0l9.5 18h-19z" fill="#f00"/>
<g class="san" fill="#111" font-size="59.5">
<text transform="translate(480.5,150.7) scale(0.966,1)">Ni coating</text>
<text transform="translate(480.5,221.2) scale(0.966,1)">Ni/NiCr coating</text>
</g>
</g>
</svg></body></html>
